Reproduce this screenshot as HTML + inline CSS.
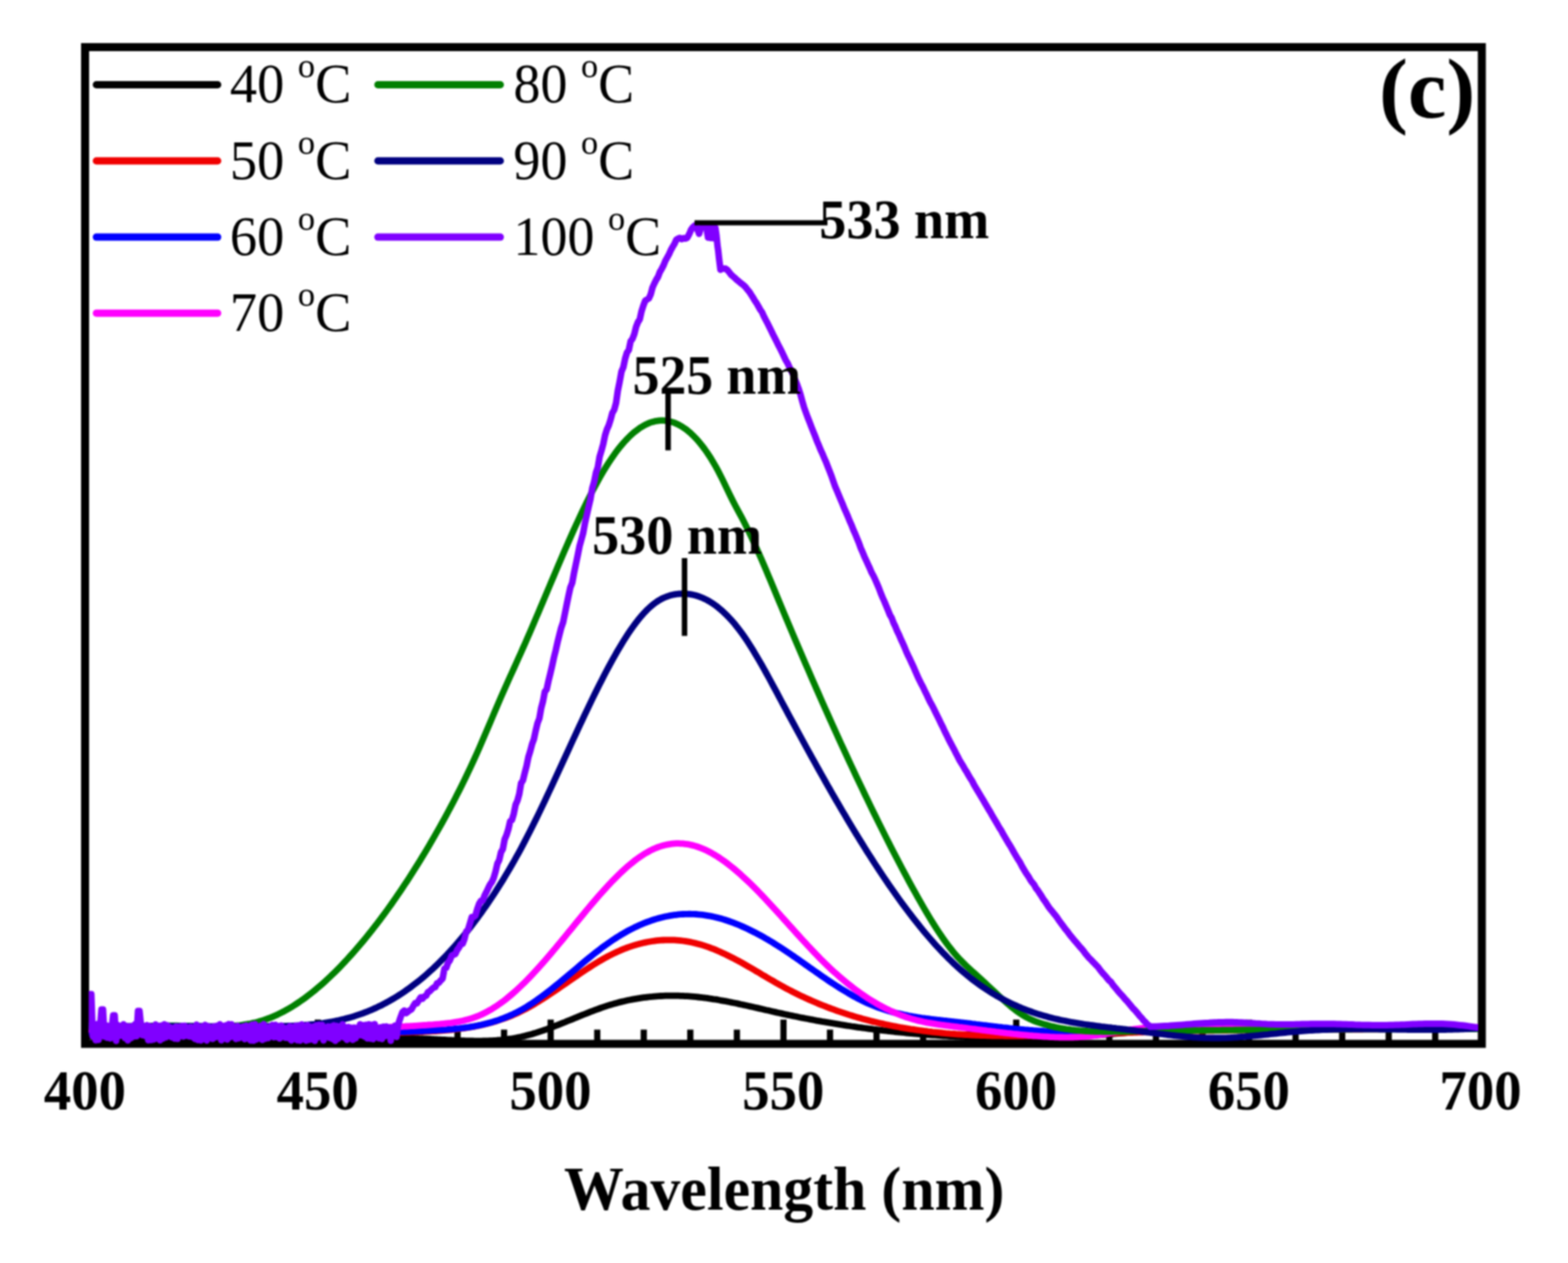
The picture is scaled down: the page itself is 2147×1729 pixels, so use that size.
<!DOCTYPE html>
<html lang="en">
<head>
<meta charset="utf-8">
<title>Emission spectra at different temperatures (c)</title>
<style>
html,body{margin:0;padding:0;background:#fff;}
body{width:2147px;height:1729px;overflow:hidden;font-family:"Liberation Serif","DejaVu Serif",serif;}
svg{display:block;filter:blur(0.8px);}
</style>
</head>
<body>
<svg width="2147" height="1729" viewBox="0 0 2147 1729">
<rect x="0" y="0" width="2147" height="1729" fill="#ffffff"/>
<path d="M180.2 1429.0 V1409.5 M244.0 1429.0 V1409.5 M307.8 1429.0 V1409.5 M371.5 1429.0 V1409.5 M435.2 1429.0 V1395.8 M499.0 1429.0 V1409.5 M562.8 1429.0 V1409.5 M626.5 1429.0 V1409.5 M690.2 1429.0 V1409.5 M754.0 1429.0 V1395.8 M817.8 1429.0 V1409.5 M881.5 1429.0 V1409.5 M945.2 1429.0 V1409.5 M1009.0 1429.0 V1409.5 M1072.8 1429.0 V1395.8 M1136.5 1429.0 V1409.5 M1200.2 1429.0 V1409.5 M1264.0 1429.0 V1409.5 M1327.8 1429.0 V1409.5 M1391.5 1429.0 V1395.8 M1455.2 1429.0 V1409.5 M1519.0 1429.0 V1409.5 M1582.8 1429.0 V1409.5 M1646.5 1429.0 V1409.5 M1710.2 1429.0 V1395.8 M1774.0 1429.0 V1409.5 M1837.8 1429.0 V1409.5 M1901.5 1429.0 V1409.5 M1965.2 1429.0 V1409.5" stroke="#000" stroke-width="8.5" fill="none"/>
<rect x="116.5" y="64.5" width="1912.5" height="1364.5" fill="none" stroke="#000" stroke-width="11"/>
<clipPath id="plot"><rect x="121.5" y="64.5" width="1902.5" height="1365.5"/></clipPath>
<g clip-path="url(#plot)" fill="none" stroke-linejoin="round" stroke-linecap="round">
<path d="M122.0 1419.0 L125.0 1419.1 L128.0 1419.1 L131.0 1419.2 L134.0 1419.3 L137.0 1419.4 L140.0 1419.5 L143.0 1419.6 L146.0 1419.6 L149.0 1419.7 L152.0 1419.8 L155.0 1419.8 L158.0 1419.9 L161.0 1419.9 L164.0 1420.0 L167.0 1420.1 L170.0 1420.1 L173.0 1420.1 L176.0 1420.2 L179.0 1420.2 L182.0 1420.3 L185.0 1420.3 L188.0 1420.3 L191.0 1420.4 L194.0 1420.4 L197.0 1420.4 L200.0 1420.4 L203.0 1420.5 L206.0 1420.5 L209.0 1420.5 L212.0 1420.5 L215.0 1420.5 L218.0 1420.5 L221.0 1420.5 L224.0 1420.6 L227.0 1420.6 L230.0 1420.6 L233.0 1420.6 L236.0 1420.6 L239.0 1420.6 L242.0 1420.6 L245.0 1420.6 L248.0 1420.5 L251.0 1420.5 L254.0 1420.5 L257.0 1420.5 L260.0 1420.5 L263.0 1420.5 L266.0 1420.5 L269.0 1420.5 L272.0 1420.4 L275.0 1420.4 L278.0 1420.4 L281.0 1420.4 L284.0 1420.4 L287.0 1420.3 L290.0 1420.3 L293.0 1420.3 L296.0 1420.3 L299.0 1420.3 L302.0 1420.2 L305.0 1420.2 L308.0 1420.2 L311.0 1420.2 L314.0 1420.1 L317.0 1420.1 L320.0 1420.1 L323.0 1420.0 L326.0 1420.0 L329.0 1420.0 L332.0 1420.0 L335.0 1419.9 L338.0 1419.9 L341.0 1419.9 L344.0 1419.8 L347.0 1419.8 L350.0 1419.8 L353.0 1419.8 L356.0 1419.7 L359.0 1419.7 L362.0 1419.7 L365.0 1419.6 L368.0 1419.6 L371.0 1419.6 L374.0 1419.6 L377.0 1419.5 L380.0 1419.5 L383.0 1419.5 L386.0 1419.5 L389.0 1419.5 L392.0 1419.4 L395.0 1419.4 L398.0 1419.4 L401.0 1419.4 L404.0 1419.4 L407.0 1419.4 L410.0 1419.3 L413.0 1419.3 L416.0 1419.3 L419.0 1419.3 L422.0 1419.3 L425.0 1419.3 L428.0 1419.3 L431.0 1419.3 L434.0 1419.3 L437.0 1419.3 L440.0 1419.3 L443.0 1419.3 L446.0 1419.3 L449.0 1419.3 L452.0 1419.3 L455.0 1419.3 L458.0 1419.3 L461.0 1419.3 L464.0 1419.3 L467.0 1419.4 L470.0 1419.4 L473.0 1419.4 L476.0 1419.4 L479.0 1419.4 L482.0 1419.5 L485.0 1419.5 L488.0 1419.5 L491.0 1419.6 L494.0 1419.6 L497.0 1419.7 L500.0 1419.7 L503.0 1419.7 L506.0 1419.8 L509.0 1419.8 L512.0 1419.9 L515.0 1420.0 L518.0 1420.0 L521.0 1420.1 L524.0 1420.2 L527.0 1420.2 L530.0 1420.3 L533.0 1420.4 L536.0 1420.5 L539.0 1420.5 L542.0 1420.6 L545.0 1420.7 L548.0 1420.8 L551.0 1420.9 L554.0 1421.0 L557.0 1421.1 L560.0 1421.2 L563.0 1421.3 L566.0 1421.4 L569.0 1421.6 L572.0 1421.7 L575.0 1421.8 L578.0 1421.9 L581.0 1422.1 L584.0 1422.2 L587.0 1422.3 L590.0 1422.5 L593.0 1422.6 L596.0 1422.8 L599.0 1423.0 L602.0 1423.1 L605.0 1423.3 L608.0 1423.4 L611.0 1423.6 L614.0 1423.8 L617.0 1423.9 L620.0 1424.1 L623.0 1424.2 L626.0 1424.4 L629.0 1424.5 L632.0 1424.6 L635.0 1424.7 L638.0 1424.8 L641.0 1424.9 L644.0 1425.0 L647.0 1425.0 L650.0 1425.1 L653.0 1425.1 L656.0 1425.1 L659.0 1425.1 L662.0 1425.0 L665.0 1424.9 L668.0 1424.8 L671.0 1424.7 L674.0 1424.6 L677.0 1424.4 L680.0 1424.2 L683.0 1423.9 L686.0 1423.7 L689.0 1423.4 L692.0 1423.0 L695.0 1422.6 L698.0 1422.2 L701.0 1421.8 L704.0 1421.3 L707.0 1420.7 L710.0 1420.1 L713.0 1419.5 L716.0 1418.8 L719.0 1418.1 L722.0 1417.3 L725.0 1416.5 L728.0 1415.7 L731.0 1414.8 L734.0 1413.9 L737.0 1412.9 L740.0 1411.9 L743.0 1410.9 L746.0 1409.8 L749.0 1408.8 L752.0 1407.7 L755.0 1406.5 L758.0 1405.4 L761.0 1404.2 L764.0 1403.1 L767.0 1401.9 L770.0 1400.7 L773.0 1399.5 L776.0 1398.2 L779.0 1397.0 L782.0 1395.8 L785.0 1394.6 L788.0 1393.3 L791.0 1392.1 L794.0 1390.9 L797.0 1389.7 L800.0 1388.5 L803.0 1387.3 L806.0 1386.1 L809.0 1384.9 L812.0 1383.8 L815.0 1382.7 L818.0 1381.6 L821.0 1380.5 L824.0 1379.4 L827.0 1378.4 L830.0 1377.4 L833.0 1376.4 L836.0 1375.5 L839.0 1374.6 L842.0 1373.7 L845.0 1372.9 L848.0 1372.1 L851.0 1371.4 L854.0 1370.7 L857.0 1370.0 L860.0 1369.3 L863.0 1368.7 L866.0 1368.1 L869.0 1367.6 L872.0 1367.1 L875.0 1366.6 L878.0 1366.1 L881.0 1365.7 L884.0 1365.3 L887.0 1365.0 L890.0 1364.6 L893.0 1364.4 L896.0 1364.1 L899.0 1363.9 L902.0 1363.7 L905.0 1363.5 L908.0 1363.4 L911.0 1363.2 L914.0 1363.2 L917.0 1363.1 L920.0 1363.1 L923.0 1363.1 L926.0 1363.1 L929.0 1363.2 L932.0 1363.3 L935.0 1363.4 L938.0 1363.6 L941.0 1363.7 L944.0 1363.9 L947.0 1364.1 L950.0 1364.4 L953.0 1364.7 L956.0 1365.0 L959.0 1365.3 L962.0 1365.7 L965.0 1366.0 L968.0 1366.4 L971.0 1366.9 L974.0 1367.3 L977.0 1367.8 L980.0 1368.2 L983.0 1368.7 L986.0 1369.3 L989.0 1369.8 L992.0 1370.3 L995.0 1370.9 L998.0 1371.5 L1001.0 1372.1 L1004.0 1372.7 L1007.0 1373.3 L1010.0 1373.9 L1013.0 1374.6 L1016.0 1375.2 L1019.0 1375.9 L1022.0 1376.5 L1025.0 1377.2 L1028.0 1377.9 L1031.0 1378.5 L1034.0 1379.2 L1037.0 1379.9 L1040.0 1380.6 L1043.0 1381.3 L1046.0 1382.0 L1049.0 1382.7 L1052.0 1383.3 L1055.0 1384.0 L1058.0 1384.7 L1061.0 1385.4 L1064.0 1386.1 L1067.0 1386.7 L1070.0 1387.4 L1073.0 1388.1 L1076.0 1388.7 L1079.0 1389.4 L1082.0 1390.0 L1085.0 1390.6 L1088.0 1391.2 L1091.0 1391.8 L1094.0 1392.5 L1097.0 1393.1 L1100.0 1393.6 L1103.0 1394.2 L1106.0 1394.8 L1109.0 1395.4 L1112.0 1395.9 L1115.0 1396.5 L1118.0 1397.1 L1121.0 1397.6 L1124.0 1398.1 L1127.0 1398.7 L1130.0 1399.2 L1133.0 1399.7 L1136.0 1400.2 L1139.0 1400.7 L1142.0 1401.2 L1145.0 1401.7 L1148.0 1402.2 L1151.0 1402.7 L1154.0 1403.1 L1157.0 1403.6 L1160.0 1404.1 L1163.0 1404.5 L1166.0 1405.0 L1169.0 1405.4 L1172.0 1405.8 L1175.0 1406.3 L1178.0 1406.7 L1181.0 1407.1 L1184.0 1407.5 L1187.0 1407.9 L1190.0 1408.3 L1193.0 1408.7 L1196.0 1409.1 L1199.0 1409.4 L1202.0 1409.8 L1205.0 1410.2 L1208.0 1410.5 L1211.0 1410.9 L1214.0 1411.2 L1217.0 1411.5 L1220.0 1411.9 L1223.0 1412.2 L1226.0 1412.5 L1229.0 1412.8 L1232.0 1413.1 L1235.0 1413.4 L1238.0 1413.7 L1241.0 1414.0 L1244.0 1414.3 L1247.0 1414.6 L1250.0 1414.8 L1253.0 1415.1 L1256.0 1415.4 L1259.0 1415.6 L1262.0 1415.8 L1265.0 1416.1 L1268.0 1416.3 L1271.0 1416.6 L1274.0 1416.8 L1277.0 1417.0 L1280.0 1417.2 L1283.0 1417.4 L1286.0 1417.6 L1289.0 1417.8 L1292.0 1418.0 L1295.0 1418.2 L1298.0 1418.3 L1301.0 1418.5 L1304.0 1418.7 L1307.0 1418.8 L1310.0 1419.0 L1313.0 1419.1 L1316.0 1419.3 L1319.0 1419.4 L1322.0 1419.6 L1325.0 1419.7 L1328.0 1419.8 L1331.0 1419.9 L1334.0 1420.0 L1337.0 1420.1 L1340.0 1420.2 L1343.0 1420.3 L1346.0 1420.4 L1349.0 1420.5 L1352.0 1420.6 L1355.0 1420.6 L1358.0 1420.7 L1361.0 1420.7 L1364.0 1420.8 L1367.0 1420.8 L1370.0 1420.9 L1373.0 1420.9 L1376.0 1421.0 L1379.0 1421.0 L1382.0 1421.0 L1385.0 1421.0 L1388.0 1421.0 L1391.0 1421.0 L1394.0 1421.0 L1397.0 1421.0 L1400.0 1421.0 L1403.0 1421.0 L1406.0 1420.9 L1409.0 1420.9 L1412.0 1420.9 L1415.0 1420.8 L1418.0 1420.8 L1421.0 1420.7 L1424.0 1420.7 L1427.0 1420.6 L1430.0 1420.5 L1433.0 1420.5 L1436.0 1420.4 L1439.0 1420.3 L1442.0 1420.2 L1445.0 1420.1 L1448.0 1420.0 L1451.0 1419.9 L1454.0 1419.8 L1457.0 1419.6 L1460.0 1419.5 L1463.0 1419.4 L1466.0 1419.2 L1469.0 1419.1 L1472.0 1418.9 L1475.0 1418.8 L1478.0 1418.6 L1481.0 1418.4 L1484.0 1418.3 L1487.0 1418.1 L1490.0 1417.9 L1493.0 1417.7 L1496.0 1417.5 L1499.0 1417.3 L1502.0 1417.1 L1505.0 1416.9 L1508.0 1416.6 L1511.0 1416.4 L1514.0 1416.2 L1517.0 1415.9 L1520.0 1415.7 L1523.0 1415.5 L1526.0 1415.2 L1529.0 1414.9 L1532.0 1414.7 L1535.0 1414.4 L1538.0 1414.1 L1541.0 1413.8 L1544.0 1413.5 L1547.0 1413.2 L1550.0 1412.9 L1553.0 1412.6 L1556.0 1412.3 L1559.0 1412.0 L1562.0 1411.7 L1565.0 1411.4 L1568.0 1411.1 L1571.0 1410.8 L1574.0 1410.5 L1577.0 1410.2 L1580.0 1409.9 L1583.0 1409.6 L1586.0 1409.4 L1589.0 1409.1 L1592.0 1408.9 L1595.0 1408.6 L1598.0 1408.4 L1601.0 1408.2 L1604.0 1408.0 L1607.0 1407.9 L1610.0 1407.7 L1613.0 1407.6 L1616.0 1407.5 L1619.0 1407.4 L1622.0 1407.3 L1625.0 1407.2 L1628.0 1407.1 L1631.0 1407.1 L1634.0 1407.0 L1637.0 1407.0 L1640.0 1407.0 L1643.0 1406.9 L1646.0 1406.9 L1649.0 1406.9 L1652.0 1406.9 L1655.0 1406.9 L1658.0 1406.9 L1661.0 1406.9 L1664.0 1406.9 L1667.0 1406.9 L1670.0 1407.0 L1673.0 1407.0 L1676.0 1407.0 L1679.0 1407.0 L1682.0 1407.0 L1685.0 1407.0 L1688.0 1407.0 L1691.0 1407.1 L1694.0 1407.1 L1697.0 1407.1 L1700.0 1407.1 L1703.0 1407.1 L1706.0 1407.1 L1709.0 1407.2 L1712.0 1407.2 L1715.0 1407.2 L1718.0 1407.2 L1721.0 1407.2 L1724.0 1407.2 L1727.0 1407.3 L1730.0 1407.3 L1733.0 1407.3 L1736.0 1407.3 L1739.0 1407.3 L1742.0 1407.3 L1745.0 1407.4 L1748.0 1407.4 L1751.0 1407.4 L1754.0 1407.4 L1757.0 1407.4 L1760.0 1407.4 L1763.0 1407.4 L1766.0 1407.4 L1769.0 1407.5 L1772.0 1407.5 L1775.0 1407.5 L1778.0 1407.5 L1781.0 1407.5 L1784.0 1407.5 L1787.0 1407.5 L1790.0 1407.5 L1793.0 1407.5 L1796.0 1407.5 L1799.0 1407.5 L1802.0 1407.5 L1805.0 1407.5 L1808.0 1407.5 L1811.0 1407.5 L1814.0 1407.4 L1817.0 1407.4 L1820.0 1407.4 L1823.0 1407.4 L1826.0 1407.4 L1829.0 1407.4 L1832.0 1407.4 L1835.0 1407.4 L1838.0 1407.3 L1841.0 1407.3 L1844.0 1407.3 L1847.0 1407.3 L1850.0 1407.3 L1853.0 1407.3 L1856.0 1407.3 L1859.0 1407.2 L1862.0 1407.2 L1865.0 1407.2 L1868.0 1407.2 L1871.0 1407.2 L1874.0 1407.2 L1877.0 1407.1 L1880.0 1407.1 L1883.0 1407.1 L1886.0 1407.1 L1889.0 1407.1 L1892.0 1407.1 L1895.0 1407.0 L1898.0 1407.0 L1901.0 1407.0 L1904.0 1407.0 L1907.0 1407.0 L1910.0 1407.0 L1913.0 1407.0 L1916.0 1406.9 L1919.0 1406.9 L1922.0 1406.9 L1925.0 1406.9 L1928.0 1406.9 L1931.0 1406.9 L1934.0 1406.9 L1937.0 1406.9 L1940.0 1406.9 L1943.0 1406.9 L1946.0 1406.9 L1949.0 1406.9 L1952.0 1406.9 L1955.0 1406.9 L1958.0 1406.9 L1961.0 1406.9 L1964.0 1406.9 L1967.0 1406.9 L1970.0 1406.9 L1973.0 1406.9 L1976.0 1406.9 L1979.0 1406.9 L1982.0 1406.9 L1985.0 1407.0 L1988.0 1407.0 L1991.0 1407.0 L1994.0 1407.0 L1997.0 1407.0 L2000.0 1407.1 L2003.0 1407.1 L2006.0 1407.1 L2009.0 1407.1 L2012.0 1407.2 L2015.0 1407.2 L2018.0 1407.3 L2021.0 1407.3 L2023.0 1407.3" stroke="#000000" stroke-width="8.8"/>
<path d="M122.0 1410.2 L125.0 1410.3 L128.0 1410.4 L131.0 1410.5 L134.0 1410.6 L137.0 1410.7 L140.0 1410.8 L143.0 1410.9 L146.0 1410.9 L149.0 1411.0 L152.0 1411.1 L155.0 1411.2 L158.0 1411.2 L161.0 1411.3 L164.0 1411.3 L167.0 1411.4 L170.0 1411.4 L173.0 1411.4 L176.0 1411.5 L179.0 1411.5 L182.0 1411.5 L185.0 1411.5 L188.0 1411.6 L191.0 1411.6 L194.0 1411.6 L197.0 1411.6 L200.0 1411.6 L203.0 1411.6 L206.0 1411.6 L209.0 1411.6 L212.0 1411.6 L215.0 1411.6 L218.0 1411.6 L221.0 1411.6 L224.0 1411.6 L227.0 1411.5 L230.0 1411.5 L233.0 1411.5 L236.0 1411.5 L239.0 1411.5 L242.0 1411.4 L245.0 1411.4 L248.0 1411.4 L251.0 1411.4 L254.0 1411.3 L257.0 1411.3 L260.0 1411.3 L263.0 1411.3 L266.0 1411.2 L269.0 1411.2 L272.0 1411.2 L275.0 1411.1 L278.0 1411.1 L281.0 1411.1 L284.0 1411.1 L287.0 1411.0 L290.0 1411.0 L293.0 1411.0 L296.0 1411.0 L299.0 1410.9 L302.0 1410.9 L305.0 1410.9 L308.0 1410.9 L311.0 1410.9 L314.0 1410.8 L317.0 1410.8 L320.0 1410.8 L323.0 1410.8 L326.0 1410.8 L329.0 1410.8 L332.0 1410.8 L335.0 1410.8 L338.0 1410.8 L341.0 1410.8 L344.0 1410.8 L347.0 1410.8 L350.0 1410.9 L353.0 1410.9 L356.0 1410.9 L359.0 1410.9 L362.0 1411.0 L365.0 1411.0 L368.0 1411.0 L371.0 1411.1 L374.0 1411.1 L377.0 1411.2 L380.0 1411.2 L383.0 1411.3 L386.0 1411.3 L389.0 1411.4 L392.0 1411.5 L395.0 1411.5 L398.0 1411.6 L401.0 1411.7 L404.0 1411.8 L407.0 1411.8 L410.0 1411.9 L413.0 1412.0 L416.0 1412.0 L419.0 1412.1 L422.0 1412.2 L425.0 1412.3 L428.0 1412.4 L431.0 1412.4 L434.0 1412.5 L437.0 1412.6 L440.0 1412.7 L443.0 1412.7 L446.0 1412.8 L449.0 1412.9 L452.0 1413.0 L455.0 1413.0 L458.0 1413.1 L461.0 1413.2 L464.0 1413.2 L467.0 1413.3 L470.0 1413.4 L473.0 1413.4 L476.0 1413.5 L479.0 1413.5 L482.0 1413.6 L485.0 1413.6 L488.0 1413.7 L491.0 1413.7 L494.0 1413.8 L497.0 1413.8 L500.0 1413.8 L503.0 1413.9 L506.0 1413.9 L509.0 1413.9 L512.0 1413.9 L515.0 1413.9 L518.0 1413.9 L521.0 1413.9 L524.0 1413.9 L527.0 1413.9 L530.0 1413.9 L533.0 1413.8 L536.0 1413.8 L539.0 1413.7 L542.0 1413.7 L545.0 1413.6 L548.0 1413.6 L551.0 1413.5 L554.0 1413.4 L557.0 1413.4 L560.0 1413.3 L563.0 1413.2 L566.0 1413.1 L569.0 1412.9 L572.0 1412.8 L575.0 1412.7 L578.0 1412.5 L581.0 1412.4 L584.0 1412.2 L587.0 1412.1 L590.0 1411.9 L593.0 1411.7 L596.0 1411.5 L599.0 1411.3 L602.0 1411.1 L605.0 1410.8 L608.0 1410.6 L611.0 1410.3 L614.0 1410.1 L617.0 1409.8 L620.0 1409.5 L623.0 1409.1 L626.0 1408.8 L629.0 1408.4 L632.0 1408.0 L635.0 1407.6 L638.0 1407.1 L641.0 1406.7 L644.0 1406.2 L647.0 1405.7 L650.0 1405.1 L653.0 1404.5 L656.0 1403.9 L659.0 1403.2 L662.0 1402.6 L665.0 1401.8 L668.0 1401.1 L671.0 1400.3 L674.0 1399.5 L677.0 1398.6 L680.0 1397.7 L683.0 1396.7 L686.0 1395.7 L689.0 1394.7 L692.0 1393.6 L695.0 1392.5 L698.0 1391.3 L701.0 1390.1 L704.0 1388.8 L707.0 1387.4 L710.0 1386.1 L713.0 1384.6 L716.0 1383.1 L719.0 1381.6 L722.0 1380.0 L725.0 1378.3 L728.0 1376.6 L731.0 1374.9 L734.0 1373.1 L737.0 1371.3 L740.0 1369.4 L743.0 1367.5 L746.0 1365.6 L749.0 1363.7 L752.0 1361.7 L755.0 1359.7 L758.0 1357.7 L761.0 1355.6 L764.0 1353.6 L767.0 1351.5 L770.0 1349.4 L773.0 1347.4 L776.0 1345.3 L779.0 1343.2 L782.0 1341.1 L785.0 1339.1 L788.0 1337.0 L791.0 1335.0 L794.0 1332.9 L797.0 1330.9 L800.0 1328.9 L803.0 1326.9 L806.0 1325.0 L809.0 1323.0 L812.0 1321.1 L815.0 1319.3 L818.0 1317.4 L821.0 1315.6 L824.0 1313.9 L827.0 1312.2 L830.0 1310.5 L833.0 1308.9 L836.0 1307.4 L839.0 1305.9 L842.0 1304.4 L845.0 1303.0 L848.0 1301.7 L851.0 1300.4 L854.0 1299.2 L857.0 1298.0 L860.0 1296.9 L863.0 1295.9 L866.0 1294.9 L869.0 1293.9 L872.0 1293.1 L875.0 1292.2 L878.0 1291.5 L881.0 1290.8 L884.0 1290.1 L887.0 1289.5 L890.0 1289.0 L893.0 1288.5 L896.0 1288.1 L899.0 1287.7 L902.0 1287.4 L905.0 1287.2 L908.0 1287.0 L911.0 1286.9 L914.0 1286.8 L917.0 1286.8 L920.0 1286.8 L923.0 1286.9 L926.0 1287.1 L929.0 1287.3 L932.0 1287.6 L935.0 1288.0 L938.0 1288.4 L941.0 1288.9 L944.0 1289.4 L947.0 1290.0 L950.0 1290.7 L953.0 1291.4 L956.0 1292.2 L959.0 1293.0 L962.0 1293.9 L965.0 1294.9 L968.0 1295.9 L971.0 1296.9 L974.0 1298.1 L977.0 1299.2 L980.0 1300.4 L983.0 1301.7 L986.0 1303.0 L989.0 1304.4 L992.0 1305.8 L995.0 1307.2 L998.0 1308.7 L1001.0 1310.2 L1004.0 1311.7 L1007.0 1313.3 L1010.0 1314.9 L1013.0 1316.5 L1016.0 1318.2 L1019.0 1319.9 L1022.0 1321.6 L1025.0 1323.3 L1028.0 1325.0 L1031.0 1326.8 L1034.0 1328.6 L1037.0 1330.3 L1040.0 1332.1 L1043.0 1333.9 L1046.0 1335.7 L1049.0 1337.4 L1052.0 1339.2 L1055.0 1341.0 L1058.0 1342.7 L1061.0 1344.4 L1064.0 1346.2 L1067.0 1347.8 L1070.0 1349.5 L1073.0 1351.2 L1076.0 1352.8 L1079.0 1354.4 L1082.0 1355.9 L1085.0 1357.5 L1088.0 1359.0 L1091.0 1360.5 L1094.0 1362.0 L1097.0 1363.4 L1100.0 1364.8 L1103.0 1366.2 L1106.0 1367.6 L1109.0 1368.9 L1112.0 1370.2 L1115.0 1371.5 L1118.0 1372.8 L1121.0 1374.1 L1124.0 1375.3 L1127.0 1376.5 L1130.0 1377.7 L1133.0 1378.9 L1136.0 1380.0 L1139.0 1381.1 L1142.0 1382.2 L1145.0 1383.3 L1148.0 1384.4 L1151.0 1385.4 L1154.0 1386.4 L1157.0 1387.4 L1160.0 1388.4 L1163.0 1389.4 L1166.0 1390.3 L1169.0 1391.2 L1172.0 1392.1 L1175.0 1393.0 L1178.0 1393.8 L1181.0 1394.7 L1184.0 1395.5 L1187.0 1396.3 L1190.0 1397.1 L1193.0 1397.9 L1196.0 1398.6 L1199.0 1399.3 L1202.0 1400.0 L1205.0 1400.7 L1208.0 1401.4 L1211.0 1402.1 L1214.0 1402.7 L1217.0 1403.4 L1220.0 1404.0 L1223.0 1404.6 L1226.0 1405.1 L1229.0 1405.7 L1232.0 1406.3 L1235.0 1406.8 L1238.0 1407.3 L1241.0 1407.8 L1244.0 1408.3 L1247.0 1408.8 L1250.0 1409.2 L1253.0 1409.7 L1256.0 1410.1 L1259.0 1410.5 L1262.0 1410.9 L1265.0 1411.3 L1268.0 1411.7 L1271.0 1412.1 L1274.0 1412.4 L1277.0 1412.8 L1280.0 1413.1 L1283.0 1413.4 L1286.0 1413.7 L1289.0 1414.0 L1292.0 1414.3 L1295.0 1414.6 L1298.0 1414.8 L1301.0 1415.1 L1304.0 1415.3 L1307.0 1415.5 L1310.0 1415.8 L1313.0 1416.0 L1316.0 1416.2 L1319.0 1416.4 L1322.0 1416.5 L1325.0 1416.7 L1328.0 1416.9 L1331.0 1417.0 L1334.0 1417.1 L1337.0 1417.3 L1340.0 1417.4 L1343.0 1417.5 L1346.0 1417.6 L1349.0 1417.7 L1352.0 1417.8 L1355.0 1417.9 L1358.0 1418.0 L1361.0 1418.0 L1364.0 1418.1 L1367.0 1418.1 L1370.0 1418.2 L1373.0 1418.2 L1376.0 1418.3 L1379.0 1418.3 L1382.0 1418.3 L1385.0 1418.3 L1388.0 1418.3 L1391.0 1418.3 L1394.0 1418.3 L1397.0 1418.3 L1400.0 1418.3 L1403.0 1418.2 L1406.0 1418.2 L1409.0 1418.2 L1412.0 1418.1 L1415.0 1418.1 L1418.0 1418.1 L1421.0 1418.0 L1424.0 1417.9 L1427.0 1417.9 L1430.0 1417.8 L1433.0 1417.7 L1436.0 1417.7 L1439.0 1417.6 L1442.0 1417.5 L1445.0 1417.4 L1448.0 1417.3 L1451.0 1417.2 L1454.0 1417.1 L1457.0 1417.0 L1460.0 1417.0 L1463.0 1416.8 L1466.0 1416.7 L1469.0 1416.6 L1472.0 1416.5 L1475.0 1416.4 L1478.0 1416.3 L1481.0 1416.2 L1484.0 1416.1 L1487.0 1416.0 L1490.0 1415.8 L1493.0 1415.7 L1496.0 1415.6 L1499.0 1415.5 L1502.0 1415.4 L1505.0 1415.3 L1508.0 1415.1 L1511.0 1415.0 L1514.0 1414.9 L1517.0 1414.8 L1520.0 1414.7 L1523.0 1414.5 L1526.0 1414.4 L1529.0 1414.3 L1532.0 1414.2 L1535.0 1414.1 L1538.0 1414.0 L1541.0 1413.9 L1544.0 1413.7 L1547.0 1413.6 L1550.0 1413.5 L1553.0 1413.4 L1556.0 1413.3 L1559.0 1413.2 L1562.0 1413.1 L1565.0 1413.0 L1568.0 1412.9 L1571.0 1412.8 L1574.0 1412.8 L1577.0 1412.7 L1580.0 1412.6 L1583.0 1412.5 L1586.0 1412.4 L1589.0 1412.3 L1592.0 1412.2 L1595.0 1412.2 L1598.0 1412.1 L1601.0 1412.0 L1604.0 1411.9 L1607.0 1411.9 L1610.0 1411.8 L1613.0 1411.7 L1616.0 1411.6 L1619.0 1411.6 L1622.0 1411.5 L1625.0 1411.4 L1628.0 1411.4 L1631.0 1411.3 L1634.0 1411.2 L1637.0 1411.2 L1640.0 1411.1 L1643.0 1411.1 L1646.0 1411.0 L1649.0 1411.0 L1652.0 1410.9 L1655.0 1410.9 L1658.0 1410.8 L1661.0 1410.8 L1664.0 1410.7 L1667.0 1410.7 L1670.0 1410.6 L1673.0 1410.6 L1676.0 1410.5 L1679.0 1410.5 L1682.0 1410.4 L1685.0 1410.4 L1688.0 1410.3 L1691.0 1410.3 L1694.0 1410.3 L1697.0 1410.2 L1700.0 1410.2 L1703.0 1410.2 L1706.0 1410.1 L1709.0 1410.1 L1712.0 1410.0 L1715.0 1410.0 L1718.0 1410.0 L1721.0 1410.0 L1724.0 1409.9 L1727.0 1409.9 L1730.0 1409.9 L1733.0 1409.8 L1736.0 1409.8 L1739.0 1409.8 L1742.0 1409.7 L1745.0 1409.7 L1748.0 1409.7 L1751.0 1409.7 L1754.0 1409.6 L1757.0 1409.6 L1760.0 1409.6 L1763.0 1409.6 L1766.0 1409.6 L1769.0 1409.5 L1772.0 1409.5 L1775.0 1409.5 L1778.0 1409.5 L1781.0 1409.4 L1784.0 1409.4 L1787.0 1409.4 L1790.0 1409.4 L1793.0 1409.4 L1796.0 1409.4 L1799.0 1409.3 L1802.0 1409.3 L1805.0 1409.3 L1808.0 1409.3 L1811.0 1409.3 L1814.0 1409.2 L1817.0 1409.2 L1820.0 1409.2 L1823.0 1409.2 L1826.0 1409.2 L1829.0 1409.2 L1832.0 1409.1 L1835.0 1409.1 L1838.0 1409.1 L1841.0 1409.1 L1844.0 1409.1 L1847.0 1409.1 L1850.0 1409.0 L1853.0 1409.0 L1856.0 1409.0 L1859.0 1409.0 L1862.0 1409.0 L1865.0 1409.0 L1868.0 1408.9 L1871.0 1408.9 L1874.0 1408.9 L1877.0 1408.9 L1880.0 1408.9 L1883.0 1408.8 L1886.0 1408.8 L1889.0 1408.8 L1892.0 1408.8 L1895.0 1408.8 L1898.0 1408.7 L1901.0 1408.7 L1904.0 1408.7 L1907.0 1408.7 L1910.0 1408.7 L1913.0 1408.6 L1916.0 1408.6 L1919.0 1408.6 L1922.0 1408.6 L1925.0 1408.5 L1928.0 1408.5 L1931.0 1408.5 L1934.0 1408.5 L1937.0 1408.4 L1940.0 1408.4 L1943.0 1408.4 L1946.0 1408.4 L1949.0 1408.3 L1952.0 1408.3 L1955.0 1408.3 L1958.0 1408.2 L1961.0 1408.2 L1964.0 1408.2 L1967.0 1408.1 L1970.0 1408.1 L1973.0 1408.1 L1976.0 1408.0 L1979.0 1408.0 L1982.0 1408.0 L1985.0 1407.9 L1988.0 1407.9 L1991.0 1407.8 L1994.0 1407.8 L1997.0 1407.8 L2000.0 1407.7 L2003.0 1407.7 L2006.0 1407.6 L2009.0 1407.6 L2012.0 1407.5 L2015.0 1407.5 L2018.0 1407.4 L2021.0 1407.4 L2023.0 1407.3" stroke="#f00000" stroke-width="8.8"/>
<path d="M122.0 1412.8 L125.0 1412.6 L128.0 1412.5 L131.0 1412.3 L134.0 1412.2 L137.0 1412.0 L140.0 1411.9 L143.0 1411.8 L146.0 1411.7 L149.0 1411.6 L152.0 1411.5 L155.0 1411.4 L158.0 1411.3 L161.0 1411.2 L164.0 1411.1 L167.0 1411.0 L170.0 1410.9 L173.0 1410.8 L176.0 1410.8 L179.0 1410.7 L182.0 1410.7 L185.0 1410.6 L188.0 1410.5 L191.0 1410.5 L194.0 1410.5 L197.0 1410.4 L200.0 1410.4 L203.0 1410.3 L206.0 1410.3 L209.0 1410.3 L212.0 1410.3 L215.0 1410.2 L218.0 1410.2 L221.0 1410.2 L224.0 1410.2 L227.0 1410.2 L230.0 1410.2 L233.0 1410.2 L236.0 1410.2 L239.0 1410.2 L242.0 1410.2 L245.0 1410.2 L248.0 1410.3 L251.0 1410.3 L254.0 1410.3 L257.0 1410.3 L260.0 1410.3 L263.0 1410.4 L266.0 1410.4 L269.0 1410.4 L272.0 1410.5 L275.0 1410.5 L278.0 1410.5 L281.0 1410.6 L284.0 1410.6 L287.0 1410.7 L290.0 1410.7 L293.0 1410.8 L296.0 1410.8 L299.0 1410.9 L302.0 1410.9 L305.0 1411.0 L308.0 1411.0 L311.0 1411.1 L314.0 1411.1 L317.0 1411.2 L320.0 1411.2 L323.0 1411.3 L326.0 1411.4 L329.0 1411.4 L332.0 1411.5 L335.0 1411.5 L338.0 1411.6 L341.0 1411.7 L344.0 1411.7 L347.0 1411.8 L350.0 1411.8 L353.0 1411.9 L356.0 1412.0 L359.0 1412.0 L362.0 1412.1 L365.0 1412.2 L368.0 1412.2 L371.0 1412.3 L374.0 1412.3 L377.0 1412.4 L380.0 1412.5 L383.0 1412.5 L386.0 1412.6 L389.0 1412.6 L392.0 1412.7 L395.0 1412.8 L398.0 1412.8 L401.0 1412.9 L404.0 1412.9 L407.0 1413.0 L410.0 1413.0 L413.0 1413.1 L416.0 1413.1 L419.0 1413.2 L422.0 1413.2 L425.0 1413.3 L428.0 1413.3 L431.0 1413.3 L434.0 1413.4 L437.0 1413.4 L440.0 1413.4 L443.0 1413.5 L446.0 1413.5 L449.0 1413.5 L452.0 1413.6 L455.0 1413.6 L458.0 1413.6 L461.0 1413.6 L464.0 1413.6 L467.0 1413.6 L470.0 1413.6 L473.0 1413.7 L476.0 1413.7 L479.0 1413.7 L482.0 1413.7 L485.0 1413.6 L488.0 1413.6 L491.0 1413.6 L494.0 1413.6 L497.0 1413.6 L500.0 1413.6 L503.0 1413.5 L506.0 1413.5 L509.0 1413.5 L512.0 1413.4 L515.0 1413.4 L518.0 1413.4 L521.0 1413.3 L524.0 1413.3 L527.0 1413.2 L530.0 1413.1 L533.0 1413.1 L536.0 1413.0 L539.0 1412.9 L542.0 1412.8 L545.0 1412.8 L548.0 1412.7 L551.0 1412.6 L554.0 1412.5 L557.0 1412.4 L560.0 1412.3 L563.0 1412.1 L566.0 1412.0 L569.0 1411.9 L572.0 1411.8 L575.0 1411.6 L578.0 1411.5 L581.0 1411.4 L584.0 1411.2 L587.0 1411.1 L590.0 1410.9 L593.0 1410.7 L596.0 1410.5 L599.0 1410.4 L602.0 1410.2 L605.0 1410.0 L608.0 1409.8 L611.0 1409.6 L614.0 1409.3 L617.0 1409.1 L620.0 1408.8 L623.0 1408.5 L626.0 1408.2 L629.0 1407.9 L632.0 1407.5 L635.0 1407.1 L638.0 1406.7 L641.0 1406.3 L644.0 1405.8 L647.0 1405.3 L650.0 1404.8 L653.0 1404.2 L656.0 1403.6 L659.0 1403.0 L662.0 1402.3 L665.0 1401.6 L668.0 1400.8 L671.0 1400.0 L674.0 1399.2 L677.0 1398.2 L680.0 1397.3 L683.0 1396.3 L686.0 1395.2 L689.0 1394.1 L692.0 1392.9 L695.0 1391.7 L698.0 1390.4 L701.0 1389.1 L704.0 1387.6 L707.0 1386.2 L710.0 1384.6 L713.0 1383.0 L716.0 1381.3 L719.0 1379.6 L722.0 1377.7 L725.0 1375.8 L728.0 1373.9 L731.0 1371.9 L734.0 1369.8 L737.0 1367.7 L740.0 1365.5 L743.0 1363.3 L746.0 1361.1 L749.0 1358.8 L752.0 1356.5 L755.0 1354.1 L758.0 1351.7 L761.0 1349.3 L764.0 1346.8 L767.0 1344.4 L770.0 1341.9 L773.0 1339.4 L776.0 1336.9 L779.0 1334.3 L782.0 1331.8 L785.0 1329.3 L788.0 1326.8 L791.0 1324.2 L794.0 1321.7 L797.0 1319.2 L800.0 1316.7 L803.0 1314.2 L806.0 1311.8 L809.0 1309.3 L812.0 1306.9 L815.0 1304.6 L818.0 1302.2 L821.0 1299.9 L824.0 1297.6 L827.0 1295.4 L830.0 1293.2 L833.0 1291.1 L836.0 1289.0 L839.0 1286.9 L842.0 1285.0 L845.0 1283.0 L848.0 1281.2 L851.0 1279.3 L854.0 1277.6 L857.0 1275.9 L860.0 1274.2 L863.0 1272.6 L866.0 1271.1 L869.0 1269.6 L872.0 1268.2 L875.0 1266.8 L878.0 1265.5 L881.0 1264.2 L884.0 1263.0 L887.0 1261.9 L890.0 1260.8 L893.0 1259.7 L896.0 1258.8 L899.0 1257.9 L902.0 1257.0 L905.0 1256.2 L908.0 1255.5 L911.0 1254.8 L914.0 1254.2 L917.0 1253.6 L920.0 1253.1 L923.0 1252.7 L926.0 1252.3 L929.0 1251.9 L932.0 1251.7 L935.0 1251.5 L938.0 1251.3 L941.0 1251.3 L944.0 1251.2 L947.0 1251.3 L950.0 1251.4 L953.0 1251.5 L956.0 1251.8 L959.0 1252.1 L962.0 1252.4 L965.0 1252.8 L968.0 1253.3 L971.0 1253.8 L974.0 1254.4 L977.0 1255.0 L980.0 1255.7 L983.0 1256.5 L986.0 1257.3 L989.0 1258.1 L992.0 1259.0 L995.0 1260.0 L998.0 1261.0 L1001.0 1262.1 L1004.0 1263.2 L1007.0 1264.3 L1010.0 1265.5 L1013.0 1266.8 L1016.0 1268.1 L1019.0 1269.4 L1022.0 1270.8 L1025.0 1272.2 L1028.0 1273.7 L1031.0 1275.2 L1034.0 1276.7 L1037.0 1278.3 L1040.0 1279.9 L1043.0 1281.5 L1046.0 1283.2 L1049.0 1285.0 L1052.0 1286.7 L1055.0 1288.5 L1058.0 1290.3 L1061.0 1292.2 L1064.0 1294.1 L1067.0 1296.0 L1070.0 1297.9 L1073.0 1299.9 L1076.0 1301.9 L1079.0 1303.9 L1082.0 1305.9 L1085.0 1308.0 L1088.0 1310.0 L1091.0 1312.1 L1094.0 1314.2 L1097.0 1316.3 L1100.0 1318.4 L1103.0 1320.6 L1106.0 1322.7 L1109.0 1324.8 L1112.0 1326.9 L1115.0 1329.0 L1118.0 1331.1 L1121.0 1333.2 L1124.0 1335.3 L1127.0 1337.4 L1130.0 1339.4 L1133.0 1341.5 L1136.0 1343.5 L1139.0 1345.5 L1142.0 1347.4 L1145.0 1349.4 L1148.0 1351.3 L1151.0 1353.2 L1154.0 1355.0 L1157.0 1356.8 L1160.0 1358.6 L1163.0 1360.4 L1166.0 1362.1 L1169.0 1363.8 L1172.0 1365.4 L1175.0 1367.0 L1178.0 1368.5 L1181.0 1370.0 L1184.0 1371.5 L1187.0 1372.9 L1190.0 1374.2 L1193.0 1375.5 L1196.0 1376.7 L1199.0 1377.9 L1202.0 1379.0 L1205.0 1380.1 L1208.0 1381.1 L1211.0 1382.1 L1214.0 1383.1 L1217.0 1384.0 L1220.0 1384.9 L1223.0 1385.7 L1226.0 1386.5 L1229.0 1387.2 L1232.0 1387.9 L1235.0 1388.6 L1238.0 1389.3 L1241.0 1389.9 L1244.0 1390.5 L1247.0 1391.0 L1250.0 1391.6 L1253.0 1392.1 L1256.0 1392.6 L1259.0 1393.0 L1262.0 1393.5 L1265.0 1393.9 L1268.0 1394.3 L1271.0 1394.7 L1274.0 1395.1 L1277.0 1395.5 L1280.0 1395.8 L1283.0 1396.2 L1286.0 1396.5 L1289.0 1396.8 L1292.0 1397.2 L1295.0 1397.5 L1298.0 1397.8 L1301.0 1398.1 L1304.0 1398.5 L1307.0 1398.8 L1310.0 1399.1 L1313.0 1399.5 L1316.0 1399.8 L1319.0 1400.1 L1322.0 1400.5 L1325.0 1400.8 L1328.0 1401.2 L1331.0 1401.6 L1334.0 1401.9 L1337.0 1402.3 L1340.0 1402.6 L1343.0 1403.0 L1346.0 1403.4 L1349.0 1403.7 L1352.0 1404.1 L1355.0 1404.5 L1358.0 1404.8 L1361.0 1405.2 L1364.0 1405.5 L1367.0 1405.9 L1370.0 1406.2 L1373.0 1406.6 L1376.0 1406.9 L1379.0 1407.2 L1382.0 1407.6 L1385.0 1407.9 L1388.0 1408.2 L1391.0 1408.5 L1394.0 1408.8 L1397.0 1409.1 L1400.0 1409.4 L1403.0 1409.7 L1406.0 1409.9 L1409.0 1410.2 L1412.0 1410.4 L1415.0 1410.7 L1418.0 1410.9 L1421.0 1411.1 L1424.0 1411.3 L1427.0 1411.5 L1430.0 1411.7 L1433.0 1411.8 L1436.0 1412.0 L1439.0 1412.1 L1442.0 1412.2 L1445.0 1412.3 L1448.0 1412.4 L1451.0 1412.5 L1454.0 1412.6 L1457.0 1412.7 L1460.0 1412.7 L1463.0 1412.8 L1466.0 1412.8 L1469.0 1412.8 L1472.0 1412.8 L1475.0 1412.8 L1478.0 1412.8 L1481.0 1412.8 L1484.0 1412.8 L1487.0 1412.8 L1490.0 1412.8 L1493.0 1412.7 L1496.0 1412.7 L1499.0 1412.7 L1502.0 1412.6 L1505.0 1412.6 L1508.0 1412.5 L1511.0 1412.4 L1514.0 1412.4 L1517.0 1412.3 L1520.0 1412.2 L1523.0 1412.2 L1526.0 1412.1 L1529.0 1412.0 L1532.0 1411.9 L1535.0 1411.9 L1538.0 1411.8 L1541.0 1411.7 L1544.0 1411.6 L1547.0 1411.6 L1550.0 1411.5 L1553.0 1411.4 L1556.0 1411.4 L1559.0 1411.3 L1562.0 1411.2 L1565.0 1411.2 L1568.0 1411.1 L1571.0 1411.0 L1574.0 1411.0 L1577.0 1410.9 L1580.0 1410.8 L1583.0 1410.8 L1586.0 1410.7 L1589.0 1410.7 L1592.0 1410.6 L1595.0 1410.5 L1598.0 1410.5 L1601.0 1410.4 L1604.0 1410.4 L1607.0 1410.3 L1610.0 1410.3 L1613.0 1410.2 L1616.0 1410.2 L1619.0 1410.1 L1622.0 1410.1 L1625.0 1410.0 L1628.0 1410.0 L1631.0 1409.9 L1634.0 1409.9 L1637.0 1409.9 L1640.0 1409.8 L1643.0 1409.8 L1646.0 1409.7 L1649.0 1409.7 L1652.0 1409.6 L1655.0 1409.6 L1658.0 1409.6 L1661.0 1409.5 L1664.0 1409.5 L1667.0 1409.5 L1670.0 1409.4 L1673.0 1409.4 L1676.0 1409.4 L1679.0 1409.3 L1682.0 1409.3 L1685.0 1409.3 L1688.0 1409.2 L1691.0 1409.2 L1694.0 1409.2 L1697.0 1409.1 L1700.0 1409.1 L1703.0 1409.1 L1706.0 1409.0 L1709.0 1409.0 L1712.0 1409.0 L1715.0 1409.0 L1718.0 1408.9 L1721.0 1408.9 L1724.0 1408.9 L1727.0 1408.9 L1730.0 1408.9 L1733.0 1408.8 L1736.0 1408.8 L1739.0 1408.8 L1742.0 1408.8 L1745.0 1408.7 L1748.0 1408.7 L1751.0 1408.7 L1754.0 1408.7 L1757.0 1408.7 L1760.0 1408.7 L1763.0 1408.6 L1766.0 1408.6 L1769.0 1408.6 L1772.0 1408.6 L1775.0 1408.6 L1778.0 1408.6 L1781.0 1408.5 L1784.0 1408.5 L1787.0 1408.5 L1790.0 1408.5 L1793.0 1408.5 L1796.0 1408.5 L1799.0 1408.5 L1802.0 1408.5 L1805.0 1408.4 L1808.0 1408.4 L1811.0 1408.4 L1814.0 1408.4 L1817.0 1408.4 L1820.0 1408.4 L1823.0 1408.4 L1826.0 1408.4 L1829.0 1408.4 L1832.0 1408.4 L1835.0 1408.3 L1838.0 1408.3 L1841.0 1408.3 L1844.0 1408.3 L1847.0 1408.3 L1850.0 1408.3 L1853.0 1408.3 L1856.0 1408.3 L1859.0 1408.3 L1862.0 1408.3 L1865.0 1408.3 L1868.0 1408.3 L1871.0 1408.3 L1874.0 1408.2 L1877.0 1408.2 L1880.0 1408.2 L1883.0 1408.2 L1886.0 1408.2 L1889.0 1408.2 L1892.0 1408.2 L1895.0 1408.2 L1898.0 1408.2 L1901.0 1408.2 L1904.0 1408.2 L1907.0 1408.2 L1910.0 1408.2 L1913.0 1408.2 L1916.0 1408.2 L1919.0 1408.2 L1922.0 1408.2 L1925.0 1408.2 L1928.0 1408.1 L1931.0 1408.1 L1934.0 1408.1 L1937.0 1408.1 L1940.0 1408.1 L1943.0 1408.1 L1946.0 1408.1 L1949.0 1408.1 L1952.0 1408.1 L1955.0 1408.1 L1958.0 1408.1 L1961.0 1408.1 L1964.0 1408.1 L1967.0 1408.1 L1970.0 1408.1 L1973.0 1408.1 L1976.0 1408.1 L1979.0 1408.0 L1982.0 1408.0 L1985.0 1408.0 L1988.0 1408.0 L1991.0 1408.0 L1994.0 1408.0 L1997.0 1408.0 L2000.0 1408.0 L2003.0 1408.0 L2006.0 1408.0 L2009.0 1408.0 L2012.0 1408.0 L2015.0 1407.9 L2018.0 1407.9 L2021.0 1407.9 L2023.0 1407.9" stroke="#0000ff" stroke-width="8.8"/>
<path d="M122.0 1409.1 L125.0 1409.0 L128.0 1408.9 L131.0 1408.8 L134.0 1408.7 L137.0 1408.6 L140.0 1408.5 L143.0 1408.5 L146.0 1408.4 L149.0 1408.3 L152.0 1408.2 L155.0 1408.2 L158.0 1408.1 L161.0 1408.0 L164.0 1408.0 L167.0 1407.9 L170.0 1407.9 L173.0 1407.8 L176.0 1407.8 L179.0 1407.7 L182.0 1407.7 L185.0 1407.7 L188.0 1407.6 L191.0 1407.6 L194.0 1407.6 L197.0 1407.5 L200.0 1407.5 L203.0 1407.5 L206.0 1407.5 L209.0 1407.5 L212.0 1407.5 L215.0 1407.4 L218.0 1407.4 L221.0 1407.4 L224.0 1407.4 L227.0 1407.4 L230.0 1407.4 L233.0 1407.4 L236.0 1407.4 L239.0 1407.4 L242.0 1407.4 L245.0 1407.4 L248.0 1407.5 L251.0 1407.5 L254.0 1407.5 L257.0 1407.5 L260.0 1407.5 L263.0 1407.5 L266.0 1407.5 L269.0 1407.6 L272.0 1407.6 L275.0 1407.6 L278.0 1407.6 L281.0 1407.6 L284.0 1407.7 L287.0 1407.7 L290.0 1407.7 L293.0 1407.7 L296.0 1407.8 L299.0 1407.8 L302.0 1407.8 L305.0 1407.8 L308.0 1407.9 L311.0 1407.9 L314.0 1407.9 L317.0 1408.0 L320.0 1408.0 L323.0 1408.0 L326.0 1408.0 L329.0 1408.1 L332.0 1408.1 L335.0 1408.1 L338.0 1408.1 L341.0 1408.2 L344.0 1408.2 L347.0 1408.2 L350.0 1408.2 L353.0 1408.3 L356.0 1408.3 L359.0 1408.3 L362.0 1408.3 L365.0 1408.4 L368.0 1408.4 L371.0 1408.4 L374.0 1408.4 L377.0 1408.4 L380.0 1408.5 L383.0 1408.5 L386.0 1408.5 L389.0 1408.5 L392.0 1408.5 L395.0 1408.5 L398.0 1408.5 L401.0 1408.5 L404.0 1408.5 L407.0 1408.5 L410.0 1408.5 L413.0 1408.5 L416.0 1408.5 L419.0 1408.5 L422.0 1408.5 L425.0 1408.5 L428.0 1408.5 L431.0 1408.5 L434.0 1408.5 L437.0 1408.4 L440.0 1408.4 L443.0 1408.4 L446.0 1408.4 L449.0 1408.3 L452.0 1408.3 L455.0 1408.3 L458.0 1408.2 L461.0 1408.2 L464.0 1408.1 L467.0 1408.1 L470.0 1408.0 L473.0 1408.0 L476.0 1407.9 L479.0 1407.9 L482.0 1407.8 L485.0 1407.7 L488.0 1407.7 L491.0 1407.6 L494.0 1407.5 L497.0 1407.5 L500.0 1407.4 L503.0 1407.3 L506.0 1407.2 L509.0 1407.1 L512.0 1407.0 L515.0 1406.9 L518.0 1406.8 L521.0 1406.7 L524.0 1406.6 L527.0 1406.4 L530.0 1406.3 L533.0 1406.2 L536.0 1406.0 L539.0 1405.9 L542.0 1405.8 L545.0 1405.6 L548.0 1405.5 L551.0 1405.3 L554.0 1405.2 L557.0 1405.0 L560.0 1404.8 L563.0 1404.6 L566.0 1404.5 L569.0 1404.3 L572.0 1404.1 L575.0 1403.9 L578.0 1403.7 L581.0 1403.5 L584.0 1403.3 L587.0 1403.0 L590.0 1402.8 L593.0 1402.6 L596.0 1402.3 L599.0 1402.1 L602.0 1401.9 L605.0 1401.6 L608.0 1401.3 L611.0 1401.0 L614.0 1400.6 L617.0 1400.3 L620.0 1399.9 L623.0 1399.4 L626.0 1398.9 L629.0 1398.4 L632.0 1397.7 L635.0 1397.1 L638.0 1396.3 L641.0 1395.5 L644.0 1394.6 L647.0 1393.7 L650.0 1392.6 L653.0 1391.5 L656.0 1390.3 L659.0 1389.0 L662.0 1387.5 L665.0 1386.0 L668.0 1384.4 L671.0 1382.7 L674.0 1380.9 L677.0 1379.0 L680.0 1377.1 L683.0 1375.0 L686.0 1372.9 L689.0 1370.7 L692.0 1368.4 L695.0 1366.0 L698.0 1363.5 L701.0 1361.0 L704.0 1358.4 L707.0 1355.7 L710.0 1352.9 L713.0 1350.1 L716.0 1347.2 L719.0 1344.3 L722.0 1341.2 L725.0 1338.2 L728.0 1335.0 L731.0 1331.8 L734.0 1328.6 L737.0 1325.3 L740.0 1321.9 L743.0 1318.5 L746.0 1315.1 L749.0 1311.6 L752.0 1308.1 L755.0 1304.6 L758.0 1301.0 L761.0 1297.5 L764.0 1293.8 L767.0 1290.2 L770.0 1286.6 L773.0 1282.9 L776.0 1279.3 L779.0 1275.6 L782.0 1271.9 L785.0 1268.2 L788.0 1264.5 L791.0 1260.9 L794.0 1257.2 L797.0 1253.6 L800.0 1249.9 L803.0 1246.3 L806.0 1242.7 L809.0 1239.2 L812.0 1235.6 L815.0 1232.1 L818.0 1228.6 L821.0 1225.2 L824.0 1221.8 L827.0 1218.5 L830.0 1215.2 L833.0 1211.9 L836.0 1208.8 L839.0 1205.6 L842.0 1202.6 L845.0 1199.6 L848.0 1196.6 L851.0 1193.8 L854.0 1191.0 L857.0 1188.3 L860.0 1185.6 L863.0 1183.1 L866.0 1180.7 L869.0 1178.3 L872.0 1176.0 L875.0 1173.9 L878.0 1171.8 L881.0 1169.8 L884.0 1168.0 L887.0 1166.3 L890.0 1164.6 L893.0 1163.1 L896.0 1161.8 L899.0 1160.5 L902.0 1159.4 L905.0 1158.4 L908.0 1157.5 L911.0 1156.7 L914.0 1156.1 L917.0 1155.6 L920.0 1155.2 L923.0 1154.9 L926.0 1154.7 L929.0 1154.7 L932.0 1154.8 L935.0 1154.9 L938.0 1155.3 L941.0 1155.7 L944.0 1156.2 L947.0 1156.9 L950.0 1157.6 L953.0 1158.5 L956.0 1159.5 L959.0 1160.6 L962.0 1161.8 L965.0 1163.1 L968.0 1164.5 L971.0 1166.0 L974.0 1167.6 L977.0 1169.4 L980.0 1171.1 L983.0 1173.0 L986.0 1175.0 L989.0 1177.1 L992.0 1179.2 L995.0 1181.4 L998.0 1183.7 L1001.0 1186.1 L1004.0 1188.5 L1007.0 1191.0 L1010.0 1193.6 L1013.0 1196.2 L1016.0 1198.9 L1019.0 1201.7 L1022.0 1204.5 L1025.0 1207.3 L1028.0 1210.2 L1031.0 1213.2 L1034.0 1216.2 L1037.0 1219.2 L1040.0 1222.3 L1043.0 1225.4 L1046.0 1228.6 L1049.0 1231.8 L1052.0 1235.0 L1055.0 1238.2 L1058.0 1241.5 L1061.0 1244.7 L1064.0 1248.0 L1067.0 1251.3 L1070.0 1254.6 L1073.0 1258.0 L1076.0 1261.3 L1079.0 1264.7 L1082.0 1268.0 L1085.0 1271.3 L1088.0 1274.7 L1091.0 1278.0 L1094.0 1281.3 L1097.0 1284.6 L1100.0 1287.9 L1103.0 1291.1 L1106.0 1294.4 L1109.0 1297.6 L1112.0 1300.8 L1115.0 1303.9 L1118.0 1307.0 L1121.0 1310.1 L1124.0 1313.2 L1127.0 1316.2 L1130.0 1319.1 L1133.0 1322.0 L1136.0 1324.9 L1139.0 1327.7 L1142.0 1330.4 L1145.0 1333.1 L1148.0 1335.8 L1151.0 1338.4 L1154.0 1340.9 L1157.0 1343.4 L1160.0 1345.9 L1163.0 1348.3 L1166.0 1350.6 L1169.0 1352.9 L1172.0 1355.2 L1175.0 1357.4 L1178.0 1359.5 L1181.0 1361.6 L1184.0 1363.7 L1187.0 1365.7 L1190.0 1367.6 L1193.0 1369.5 L1196.0 1371.3 L1199.0 1373.1 L1202.0 1374.8 L1205.0 1376.5 L1208.0 1378.1 L1211.0 1379.7 L1214.0 1381.2 L1217.0 1382.6 L1220.0 1384.1 L1223.0 1385.4 L1226.0 1386.7 L1229.0 1388.0 L1232.0 1389.2 L1235.0 1390.3 L1238.0 1391.4 L1241.0 1392.5 L1244.0 1393.4 L1247.0 1394.4 L1250.0 1395.3 L1253.0 1396.1 L1256.0 1396.9 L1259.0 1397.6 L1262.0 1398.3 L1265.0 1399.0 L1268.0 1399.6 L1271.0 1400.2 L1274.0 1400.7 L1277.0 1401.2 L1280.0 1401.7 L1283.0 1402.2 L1286.0 1402.6 L1289.0 1403.0 L1292.0 1403.4 L1295.0 1403.8 L1298.0 1404.2 L1301.0 1404.6 L1304.0 1405.0 L1307.0 1405.3 L1310.0 1405.7 L1313.0 1406.1 L1316.0 1406.4 L1319.0 1406.8 L1322.0 1407.2 L1325.0 1407.6 L1328.0 1408.0 L1331.0 1408.4 L1334.0 1408.7 L1337.0 1409.1 L1340.0 1409.5 L1343.0 1409.9 L1346.0 1410.3 L1349.0 1410.7 L1352.0 1411.1 L1355.0 1411.4 L1358.0 1411.8 L1361.0 1412.2 L1364.0 1412.6 L1367.0 1412.9 L1370.0 1413.3 L1373.0 1413.7 L1376.0 1414.0 L1379.0 1414.4 L1382.0 1414.7 L1385.0 1415.0 L1388.0 1415.4 L1391.0 1415.7 L1394.0 1416.0 L1397.0 1416.3 L1400.0 1416.6 L1403.0 1416.9 L1406.0 1417.2 L1409.0 1417.5 L1412.0 1417.7 L1415.0 1418.0 L1418.0 1418.2 L1421.0 1418.4 L1424.0 1418.7 L1427.0 1418.9 L1430.0 1419.1 L1433.0 1419.2 L1436.0 1419.4 L1439.0 1419.6 L1442.0 1419.7 L1445.0 1419.8 L1448.0 1419.9 L1451.0 1420.0 L1454.0 1420.0 L1457.0 1420.1 L1460.0 1420.1 L1463.0 1420.1 L1466.0 1420.0 L1469.0 1420.0 L1472.0 1419.9 L1475.0 1419.8 L1478.0 1419.6 L1481.0 1419.4 L1484.0 1419.2 L1487.0 1418.9 L1490.0 1418.6 L1493.0 1418.3 L1496.0 1418.0 L1499.0 1417.6 L1502.0 1417.2 L1505.0 1416.7 L1508.0 1416.3 L1511.0 1415.8 L1514.0 1415.3 L1517.0 1414.8 L1520.0 1414.2 L1523.0 1413.7 L1526.0 1413.2 L1529.0 1412.7 L1532.0 1412.1 L1535.0 1411.6 L1538.0 1411.1 L1541.0 1410.6 L1544.0 1410.2 L1547.0 1409.7 L1550.0 1409.3 L1553.0 1408.9 L1556.0 1408.5 L1559.0 1408.2 L1562.0 1407.8 L1565.0 1407.5 L1568.0 1407.2 L1571.0 1407.0 L1574.0 1406.7 L1577.0 1406.5 L1580.0 1406.2 L1583.0 1406.0 L1586.0 1405.8 L1589.0 1405.7 L1592.0 1405.5 L1595.0 1405.4 L1598.0 1405.2 L1601.0 1405.1 L1604.0 1405.0 L1607.0 1404.9 L1610.0 1404.9 L1613.0 1404.8 L1616.0 1404.7 L1619.0 1404.7 L1622.0 1404.6 L1625.0 1404.6 L1628.0 1404.6 L1631.0 1404.6 L1634.0 1404.5 L1637.0 1404.5 L1640.0 1404.5 L1643.0 1404.5 L1646.0 1404.6 L1649.0 1404.6 L1652.0 1404.6 L1655.0 1404.6 L1658.0 1404.6 L1661.0 1404.6 L1664.0 1404.7 L1667.0 1404.7 L1670.0 1404.7 L1673.0 1404.7 L1676.0 1404.7 L1679.0 1404.8 L1682.0 1404.8 L1685.0 1404.8 L1688.0 1404.8 L1691.0 1404.8 L1694.0 1404.9 L1697.0 1404.9 L1700.0 1404.9 L1703.0 1404.9 L1706.0 1404.9 L1709.0 1405.0 L1712.0 1405.0 L1715.0 1405.0 L1718.0 1405.0 L1721.0 1405.0 L1724.0 1405.0 L1727.0 1405.1 L1730.0 1405.1 L1733.0 1405.1 L1736.0 1405.1 L1739.0 1405.1 L1742.0 1405.1 L1745.0 1405.2 L1748.0 1405.2 L1751.0 1405.2 L1754.0 1405.2 L1757.0 1405.2 L1760.0 1405.2 L1763.0 1405.2 L1766.0 1405.3 L1769.0 1405.3 L1772.0 1405.3 L1775.0 1405.3 L1778.0 1405.3 L1781.0 1405.3 L1784.0 1405.3 L1787.0 1405.3 L1790.0 1405.3 L1793.0 1405.3 L1796.0 1405.4 L1799.0 1405.4 L1802.0 1405.4 L1805.0 1405.4 L1808.0 1405.4 L1811.0 1405.4 L1814.0 1405.4 L1817.0 1405.4 L1820.0 1405.4 L1823.0 1405.4 L1826.0 1405.4 L1829.0 1405.4 L1832.0 1405.4 L1835.0 1405.4 L1838.0 1405.4 L1841.0 1405.4 L1844.0 1405.4 L1847.0 1405.4 L1850.0 1405.4 L1853.0 1405.4 L1856.0 1405.5 L1859.0 1405.5 L1862.0 1405.5 L1865.0 1405.5 L1868.0 1405.5 L1871.0 1405.5 L1874.0 1405.5 L1877.0 1405.5 L1880.0 1405.5 L1883.0 1405.5 L1886.0 1405.5 L1889.0 1405.5 L1892.0 1405.5 L1895.0 1405.5 L1898.0 1405.5 L1901.0 1405.5 L1904.0 1405.5 L1907.0 1405.5 L1910.0 1405.5 L1913.0 1405.5 L1916.0 1405.5 L1919.0 1405.5 L1922.0 1405.5 L1925.0 1405.6 L1928.0 1405.6 L1931.0 1405.6 L1934.0 1405.6 L1937.0 1405.6 L1940.0 1405.6 L1943.0 1405.6 L1946.0 1405.6 L1949.0 1405.6 L1952.0 1405.6 L1955.0 1405.7 L1958.0 1405.7 L1961.0 1405.7 L1964.0 1405.7 L1967.0 1405.7 L1970.0 1405.7 L1973.0 1405.7 L1976.0 1405.8 L1979.0 1405.8 L1982.0 1405.8 L1985.0 1405.8 L1988.0 1405.8 L1991.0 1405.9 L1994.0 1405.9 L1997.0 1405.9 L2000.0 1405.9 L2003.0 1406.0 L2006.0 1406.0 L2009.0 1406.0 L2012.0 1406.0 L2015.0 1406.1 L2018.0 1406.1 L2021.0 1406.1 L2023.0 1406.1" stroke="#ff00ff" stroke-width="8.8"/>
<path d="M122.0 1404.2 L125.0 1404.4 L128.0 1404.6 L131.0 1404.8 L134.0 1405.0 L137.0 1405.1 L140.0 1405.3 L143.0 1405.4 L146.0 1405.4 L149.0 1405.5 L152.0 1405.6 L155.0 1405.6 L158.0 1405.6 L161.0 1405.6 L164.0 1405.6 L167.0 1405.6 L170.0 1405.5 L173.0 1405.5 L176.0 1405.4 L179.0 1405.4 L182.0 1405.3 L185.0 1405.2 L188.0 1405.1 L191.0 1405.1 L194.0 1405.0 L197.0 1404.9 L200.0 1404.8 L203.0 1404.7 L206.0 1404.6 L209.0 1404.5 L212.0 1404.5 L215.0 1404.4 L218.0 1404.3 L221.0 1404.3 L224.0 1404.2 L227.0 1404.2 L230.0 1404.2 L233.0 1404.2 L236.0 1404.2 L239.0 1404.2 L242.0 1404.2 L245.0 1404.3 L248.0 1404.3 L251.0 1404.4 L254.0 1404.5 L257.0 1404.6 L260.0 1404.7 L263.0 1404.8 L266.0 1404.9 L269.0 1405.0 L272.0 1405.1 L275.0 1405.1 L278.0 1405.2 L281.0 1405.3 L284.0 1405.4 L287.0 1405.4 L290.0 1405.5 L293.0 1405.5 L296.0 1405.5 L299.0 1405.5 L302.0 1405.4 L305.0 1405.3 L308.0 1405.2 L311.0 1405.1 L314.0 1405.0 L317.0 1404.8 L320.0 1404.5 L323.0 1404.2 L326.0 1403.9 L329.0 1403.6 L332.0 1403.2 L335.0 1402.7 L338.0 1402.2 L341.0 1401.7 L344.0 1401.1 L347.0 1400.4 L350.0 1399.7 L353.0 1398.9 L356.0 1398.0 L359.0 1397.1 L362.0 1396.2 L365.0 1395.1 L368.0 1394.0 L371.0 1392.8 L374.0 1391.6 L377.0 1390.3 L380.0 1388.9 L383.0 1387.4 L386.0 1385.9 L389.0 1384.3 L392.0 1382.7 L395.0 1381.0 L398.0 1379.2 L401.0 1377.4 L404.0 1375.5 L407.0 1373.5 L410.0 1371.5 L413.0 1369.4 L416.0 1367.3 L419.0 1365.1 L422.0 1362.8 L425.0 1360.5 L428.0 1358.1 L431.0 1355.7 L434.0 1353.2 L437.0 1350.7 L440.0 1348.1 L443.0 1345.4 L446.0 1342.7 L449.0 1339.9 L452.0 1337.1 L455.0 1334.2 L458.0 1331.3 L461.0 1328.3 L464.0 1325.3 L467.0 1322.2 L470.0 1319.0 L473.0 1315.9 L476.0 1312.6 L479.0 1309.3 L482.0 1306.0 L485.0 1302.6 L488.0 1299.2 L491.0 1295.7 L494.0 1292.2 L497.0 1288.6 L500.0 1284.9 L503.0 1281.3 L506.0 1277.5 L509.0 1273.8 L512.0 1269.9 L515.0 1266.1 L518.0 1262.1 L521.0 1258.2 L524.0 1254.1 L527.0 1250.1 L530.0 1246.0 L533.0 1241.8 L536.0 1237.6 L539.0 1233.3 L542.0 1229.0 L545.0 1224.6 L548.0 1220.2 L551.0 1215.8 L554.0 1211.2 L557.0 1206.7 L560.0 1202.1 L563.0 1197.4 L566.0 1192.7 L569.0 1187.9 L572.0 1183.1 L575.0 1178.3 L578.0 1173.4 L581.0 1168.4 L584.0 1163.4 L587.0 1158.4 L590.0 1153.3 L593.0 1148.1 L596.0 1142.9 L599.0 1137.6 L602.0 1132.3 L605.0 1127.0 L608.0 1121.6 L611.0 1116.1 L614.0 1110.5 L617.0 1104.9 L620.0 1099.2 L623.0 1093.5 L626.0 1087.6 L629.0 1081.7 L632.0 1075.7 L635.0 1069.6 L638.0 1063.5 L641.0 1057.2 L644.0 1050.9 L647.0 1044.4 L650.0 1037.9 L653.0 1031.2 L656.0 1024.5 L659.0 1017.6 L662.0 1010.6 L665.0 1003.6 L668.0 996.6 L671.0 989.5 L674.0 982.4 L677.0 975.3 L680.0 968.2 L683.0 961.2 L686.0 954.3 L689.0 947.4 L692.0 940.7 L695.0 934.0 L698.0 927.3 L701.0 920.7 L704.0 914.1 L707.0 907.5 L710.0 900.8 L713.0 894.2 L716.0 887.4 L719.0 880.7 L722.0 873.8 L725.0 866.9 L728.0 860.0 L731.0 853.0 L734.0 845.9 L737.0 838.9 L740.0 831.8 L743.0 824.7 L746.0 817.6 L749.0 810.5 L752.0 803.4 L755.0 796.3 L758.0 789.2 L761.0 782.1 L764.0 775.0 L767.0 768.0 L770.0 761.0 L773.0 754.1 L776.0 747.2 L779.0 740.4 L782.0 733.6 L785.0 726.9 L788.0 720.3 L791.0 713.8 L794.0 707.3 L797.0 700.9 L800.0 694.7 L803.0 688.5 L806.0 682.5 L809.0 676.6 L812.0 670.8 L815.0 665.1 L818.0 659.6 L821.0 654.2 L824.0 648.9 L827.0 643.8 L830.0 638.9 L833.0 634.2 L836.0 629.6 L839.0 625.2 L842.0 620.9 L845.0 616.9 L848.0 613.0 L851.0 609.4 L854.0 605.9 L857.0 602.6 L860.0 599.5 L863.0 596.5 L866.0 593.8 L869.0 591.2 L872.0 588.9 L875.0 586.7 L878.0 584.7 L881.0 582.9 L884.0 581.3 L887.0 579.9 L890.0 578.7 L893.0 577.7 L896.0 576.9 L899.0 576.3 L902.0 575.9 L905.0 575.7 L908.0 575.7 L911.0 575.9 L914.0 576.3 L917.0 576.9 L920.0 577.7 L923.0 578.7 L926.0 579.9 L929.0 581.3 L932.0 583.0 L935.0 584.8 L938.0 586.8 L941.0 589.1 L944.0 591.6 L947.0 594.3 L950.0 597.2 L953.0 600.3 L956.0 603.6 L959.0 607.2 L962.0 611.0 L965.0 615.0 L968.0 619.2 L971.0 623.7 L974.0 628.4 L977.0 633.4 L980.0 638.6 L983.0 644.1 L986.0 649.9 L989.0 655.9 L992.0 662.1 L995.0 668.4 L998.0 674.7 L1001.0 680.8 L1004.0 686.8 L1007.0 692.6 L1010.0 698.1 L1013.0 703.7 L1016.0 709.2 L1019.0 715.0 L1022.0 721.0 L1025.0 727.1 L1028.0 733.3 L1031.0 739.8 L1034.0 746.3 L1037.0 753.0 L1040.0 759.7 L1043.0 766.6 L1046.0 773.6 L1049.0 780.6 L1052.0 787.7 L1055.0 794.8 L1058.0 802.0 L1061.0 809.2 L1064.0 816.5 L1067.0 823.7 L1070.0 830.9 L1073.0 838.1 L1076.0 845.2 L1079.0 852.4 L1082.0 859.5 L1085.0 866.6 L1088.0 873.7 L1091.0 880.7 L1094.0 887.8 L1097.0 894.8 L1100.0 901.7 L1103.0 908.7 L1106.0 915.6 L1109.0 922.5 L1112.0 929.4 L1115.0 936.3 L1118.0 943.1 L1121.0 949.9 L1124.0 956.7 L1127.0 963.5 L1130.0 970.2 L1133.0 976.9 L1136.0 983.6 L1139.0 990.3 L1142.0 996.9 L1145.0 1003.5 L1148.0 1010.1 L1151.0 1016.7 L1154.0 1023.2 L1157.0 1029.7 L1160.0 1036.2 L1163.0 1042.6 L1166.0 1049.0 L1169.0 1055.4 L1172.0 1061.8 L1175.0 1068.1 L1178.0 1074.4 L1181.0 1080.7 L1184.0 1087.0 L1187.0 1093.2 L1190.0 1099.4 L1193.0 1105.6 L1196.0 1111.7 L1199.0 1117.8 L1202.0 1123.9 L1205.0 1129.9 L1208.0 1135.9 L1211.0 1141.9 L1214.0 1147.9 L1217.0 1153.8 L1220.0 1159.7 L1223.0 1165.5 L1226.0 1171.3 L1229.0 1177.1 L1232.0 1182.8 L1235.0 1188.5 L1238.0 1194.1 L1241.0 1199.7 L1244.0 1205.3 L1247.0 1210.8 L1250.0 1216.3 L1253.0 1221.7 L1256.0 1227.1 L1259.0 1232.4 L1262.0 1237.7 L1265.0 1242.9 L1268.0 1248.0 L1271.0 1253.1 L1274.0 1258.0 L1277.0 1262.9 L1280.0 1267.7 L1283.0 1272.3 L1286.0 1276.9 L1289.0 1281.3 L1292.0 1285.7 L1295.0 1289.8 L1298.0 1293.9 L1301.0 1297.8 L1304.0 1301.6 L1307.0 1305.2 L1310.0 1308.7 L1313.0 1312.0 L1316.0 1315.1 L1319.0 1318.1 L1322.0 1321.1 L1325.0 1323.9 L1328.0 1326.7 L1331.0 1329.4 L1334.0 1332.1 L1337.0 1334.8 L1340.0 1337.5 L1343.0 1340.3 L1346.0 1343.0 L1349.0 1345.8 L1352.0 1348.6 L1355.0 1351.4 L1358.0 1354.2 L1361.0 1357.0 L1364.0 1359.8 L1367.0 1362.6 L1370.0 1365.4 L1373.0 1368.1 L1376.0 1370.8 L1379.0 1373.4 L1382.0 1376.0 L1385.0 1378.5 L1388.0 1380.9 L1391.0 1383.2 L1394.0 1385.4 L1397.0 1387.5 L1400.0 1389.4 L1403.0 1391.2 L1406.0 1392.9 L1409.0 1394.4 L1412.0 1395.8 L1415.0 1397.1 L1418.0 1398.3 L1421.0 1399.4 L1424.0 1400.4 L1427.0 1401.4 L1430.0 1402.3 L1433.0 1403.1 L1436.0 1403.9 L1439.0 1404.7 L1442.0 1405.4 L1445.0 1406.1 L1448.0 1406.7 L1451.0 1407.3 L1454.0 1407.8 L1457.0 1408.3 L1460.0 1408.8 L1463.0 1409.2 L1466.0 1409.6 L1469.0 1410.0 L1472.0 1410.3 L1475.0 1410.6 L1478.0 1410.9 L1481.0 1411.1 L1484.0 1411.3 L1487.0 1411.5 L1490.0 1411.7 L1493.0 1411.8 L1496.0 1411.9 L1499.0 1412.0 L1502.0 1412.1 L1505.0 1412.2 L1508.0 1412.2 L1511.0 1412.3 L1514.0 1412.3 L1517.0 1412.3 L1520.0 1412.3 L1523.0 1412.3 L1526.0 1412.2 L1529.0 1412.2 L1532.0 1412.2 L1535.0 1412.1 L1538.0 1412.1 L1541.0 1412.0 L1544.0 1412.0 L1547.0 1411.9 L1550.0 1411.9 L1553.0 1411.8 L1556.0 1411.8 L1559.0 1411.7 L1562.0 1411.7 L1565.0 1411.6 L1568.0 1411.6 L1571.0 1411.5 L1574.0 1411.5 L1577.0 1411.4 L1580.0 1411.4 L1583.0 1411.4 L1586.0 1411.3 L1589.0 1411.3 L1592.0 1411.2 L1595.0 1411.2 L1598.0 1411.1 L1601.0 1411.1 L1604.0 1411.1 L1607.0 1411.0 L1610.0 1411.0 L1613.0 1410.9 L1616.0 1410.9 L1619.0 1410.9 L1622.0 1410.8 L1625.0 1410.8 L1628.0 1410.7 L1631.0 1410.7 L1634.0 1410.7 L1637.0 1410.6 L1640.0 1410.6 L1643.0 1410.6 L1646.0 1410.5 L1649.0 1410.5 L1652.0 1410.5 L1655.0 1410.4 L1658.0 1410.4 L1661.0 1410.4 L1664.0 1410.3 L1667.0 1410.3 L1670.0 1410.3 L1673.0 1410.2 L1676.0 1410.2 L1679.0 1410.2 L1682.0 1410.1 L1685.0 1410.1 L1688.0 1410.1 L1691.0 1410.0 L1694.0 1410.0 L1697.0 1410.0 L1700.0 1410.0 L1703.0 1409.9 L1706.0 1409.9 L1709.0 1409.9 L1712.0 1409.8 L1715.0 1409.8 L1718.0 1409.8 L1721.0 1409.8 L1724.0 1409.7 L1727.0 1409.7 L1730.0 1409.7 L1733.0 1409.7 L1736.0 1409.6 L1739.0 1409.6 L1742.0 1409.6 L1745.0 1409.6 L1748.0 1409.5 L1751.0 1409.5 L1754.0 1409.5 L1757.0 1409.5 L1760.0 1409.5 L1763.0 1409.4 L1766.0 1409.4 L1769.0 1409.4 L1772.0 1409.4 L1775.0 1409.4 L1778.0 1409.3 L1781.0 1409.3 L1784.0 1409.3 L1787.0 1409.3 L1790.0 1409.3 L1793.0 1409.2 L1796.0 1409.2 L1799.0 1409.2 L1802.0 1409.2 L1805.0 1409.2 L1808.0 1409.2 L1811.0 1409.1 L1814.0 1409.1 L1817.0 1409.1 L1820.0 1409.1 L1823.0 1409.1 L1826.0 1409.1 L1829.0 1409.0 L1832.0 1409.0 L1835.0 1409.0 L1838.0 1409.0 L1841.0 1409.0 L1844.0 1409.0 L1847.0 1409.0 L1850.0 1409.0 L1853.0 1408.9 L1856.0 1408.9 L1859.0 1408.9 L1862.0 1408.9 L1865.0 1408.9 L1868.0 1408.9 L1871.0 1408.9 L1874.0 1408.9 L1877.0 1408.9 L1880.0 1408.8 L1883.0 1408.8 L1886.0 1408.8 L1889.0 1408.8 L1892.0 1408.8 L1895.0 1408.8 L1898.0 1408.8 L1901.0 1408.8 L1904.0 1408.8 L1907.0 1408.8 L1910.0 1408.8 L1913.0 1408.7 L1916.0 1408.7 L1919.0 1408.7 L1922.0 1408.7 L1925.0 1408.7 L1928.0 1408.7 L1931.0 1408.7 L1934.0 1408.7 L1937.0 1408.7 L1940.0 1408.7 L1943.0 1408.7 L1946.0 1408.7 L1949.0 1408.7 L1952.0 1408.7 L1955.0 1408.7 L1958.0 1408.7 L1961.0 1408.7 L1964.0 1408.7 L1967.0 1408.6 L1970.0 1408.6 L1973.0 1408.6 L1976.0 1408.6 L1979.0 1408.6 L1982.0 1408.6 L1985.0 1408.6 L1988.0 1408.6 L1991.0 1408.6 L1994.0 1408.6 L1997.0 1408.6 L2000.0 1408.6 L2003.0 1408.6 L2006.0 1408.6 L2009.0 1408.6 L2012.0 1408.6 L2015.0 1408.6 L2018.0 1408.6 L2021.0 1408.6 L2023.0 1408.6" stroke="#008000" stroke-width="8.8"/>
<path d="M122.0 1405.3 L125.0 1405.3 L128.0 1405.2 L131.0 1405.2 L134.0 1405.1 L137.0 1405.1 L140.0 1405.1 L143.0 1405.0 L146.0 1405.0 L149.0 1405.0 L152.0 1405.0 L155.0 1404.9 L158.0 1404.9 L161.0 1404.9 L164.0 1404.9 L167.0 1404.9 L170.0 1404.9 L173.0 1404.8 L176.0 1404.8 L179.0 1404.8 L182.0 1404.8 L185.0 1404.8 L188.0 1404.8 L191.0 1404.8 L194.0 1404.8 L197.0 1404.8 L200.0 1404.8 L203.0 1404.8 L206.0 1404.8 L209.0 1404.8 L212.0 1404.8 L215.0 1404.8 L218.0 1404.8 L221.0 1404.8 L224.0 1404.8 L227.0 1404.8 L230.0 1404.8 L233.0 1404.9 L236.0 1404.9 L239.0 1404.9 L242.0 1404.9 L245.0 1404.9 L248.0 1404.9 L251.0 1404.9 L254.0 1404.9 L257.0 1404.9 L260.0 1405.0 L263.0 1405.0 L266.0 1405.0 L269.0 1405.0 L272.0 1405.0 L275.0 1405.0 L278.0 1405.0 L281.0 1405.0 L284.0 1405.0 L287.0 1405.1 L290.0 1405.1 L293.0 1405.1 L296.0 1405.1 L299.0 1405.1 L302.0 1405.1 L305.0 1405.1 L308.0 1405.1 L311.0 1405.1 L314.0 1405.1 L317.0 1405.1 L320.0 1405.1 L323.0 1405.1 L326.0 1405.1 L329.0 1405.1 L332.0 1405.1 L335.0 1405.1 L338.0 1405.1 L341.0 1405.1 L344.0 1405.1 L347.0 1405.1 L350.0 1405.1 L353.0 1405.1 L356.0 1405.1 L359.0 1405.0 L362.0 1405.0 L365.0 1405.0 L368.0 1405.0 L371.0 1405.0 L374.0 1404.9 L377.0 1404.9 L380.0 1404.8 L383.0 1404.8 L386.0 1404.7 L389.0 1404.7 L392.0 1404.6 L395.0 1404.5 L398.0 1404.4 L401.0 1404.3 L404.0 1404.1 L407.0 1404.0 L410.0 1403.8 L413.0 1403.6 L416.0 1403.4 L419.0 1403.2 L422.0 1403.0 L425.0 1402.7 L428.0 1402.4 L431.0 1402.1 L434.0 1401.7 L437.0 1401.4 L440.0 1401.0 L443.0 1400.6 L446.0 1400.1 L449.0 1399.6 L452.0 1399.1 L455.0 1398.6 L458.0 1398.0 L461.0 1397.4 L464.0 1396.8 L467.0 1396.1 L470.0 1395.4 L473.0 1394.6 L476.0 1393.8 L479.0 1393.0 L482.0 1392.1 L485.0 1391.2 L488.0 1390.2 L491.0 1389.2 L494.0 1388.2 L497.0 1387.1 L500.0 1385.9 L503.0 1384.8 L506.0 1383.5 L509.0 1382.3 L512.0 1380.9 L515.0 1379.6 L518.0 1378.1 L521.0 1376.7 L524.0 1375.2 L527.0 1373.6 L530.0 1372.0 L533.0 1370.3 L536.0 1368.6 L539.0 1366.9 L542.0 1365.1 L545.0 1363.2 L548.0 1361.3 L551.0 1359.3 L554.0 1357.3 L557.0 1355.2 L560.0 1353.1 L563.0 1350.9 L566.0 1348.6 L569.0 1346.3 L572.0 1344.0 L575.0 1341.6 L578.0 1339.1 L581.0 1336.6 L584.0 1334.0 L587.0 1331.3 L590.0 1328.6 L593.0 1325.9 L596.0 1323.0 L599.0 1320.1 L602.0 1317.2 L605.0 1314.2 L608.0 1311.1 L611.0 1308.0 L614.0 1304.8 L617.0 1301.5 L620.0 1298.2 L623.0 1294.8 L626.0 1291.4 L629.0 1287.9 L632.0 1284.3 L635.0 1280.7 L638.0 1277.0 L641.0 1273.2 L644.0 1269.4 L647.0 1265.5 L650.0 1261.6 L653.0 1257.6 L656.0 1253.5 L659.0 1249.4 L662.0 1245.1 L665.0 1240.9 L668.0 1236.5 L671.0 1232.1 L674.0 1227.6 L677.0 1223.1 L680.0 1218.4 L683.0 1213.7 L686.0 1208.9 L689.0 1204.1 L692.0 1199.1 L695.0 1194.1 L698.0 1189.0 L701.0 1183.8 L704.0 1178.6 L707.0 1173.2 L710.0 1167.8 L713.0 1162.3 L716.0 1156.6 L719.0 1150.9 L722.0 1145.1 L725.0 1139.3 L728.0 1133.3 L731.0 1127.3 L734.0 1121.2 L737.0 1115.1 L740.0 1108.8 L743.0 1102.6 L746.0 1096.3 L749.0 1089.9 L752.0 1083.5 L755.0 1077.1 L758.0 1070.7 L761.0 1064.2 L764.0 1057.7 L767.0 1051.2 L770.0 1044.6 L773.0 1038.1 L776.0 1031.6 L779.0 1025.1 L782.0 1018.5 L785.0 1012.0 L788.0 1005.6 L791.0 999.1 L794.0 992.7 L797.0 986.3 L800.0 979.9 L803.0 973.6 L806.0 967.3 L809.0 961.1 L812.0 954.9 L815.0 948.8 L818.0 942.7 L821.0 936.8 L824.0 930.9 L827.0 925.0 L830.0 919.3 L833.0 913.6 L836.0 908.1 L839.0 902.6 L842.0 897.3 L845.0 892.0 L848.0 886.9 L851.0 881.9 L854.0 877.0 L857.0 872.3 L860.0 867.7 L863.0 863.3 L866.0 859.0 L869.0 854.9 L872.0 850.9 L875.0 847.1 L878.0 843.5 L881.0 840.1 L884.0 836.9 L887.0 833.9 L890.0 831.1 L893.0 828.5 L896.0 826.1 L899.0 824.0 L902.0 822.0 L905.0 820.3 L908.0 818.8 L911.0 817.5 L914.0 816.3 L917.0 815.3 L920.0 814.5 L923.0 813.9 L926.0 813.4 L929.0 813.0 L932.0 812.8 L935.0 812.7 L938.0 812.8 L941.0 813.0 L944.0 813.4 L947.0 813.9 L950.0 814.5 L953.0 815.3 L956.0 816.2 L959.0 817.3 L962.0 818.5 L965.0 819.9 L968.0 821.4 L971.0 823.1 L974.0 824.9 L977.0 826.9 L980.0 829.0 L983.0 831.3 L986.0 833.8 L989.0 836.4 L992.0 839.2 L995.0 842.1 L998.0 845.2 L1001.0 848.4 L1004.0 851.8 L1007.0 855.4 L1010.0 859.2 L1013.0 863.1 L1016.0 867.2 L1019.0 871.4 L1022.0 875.8 L1025.0 880.4 L1028.0 885.1 L1031.0 889.9 L1034.0 894.9 L1037.0 899.9 L1040.0 905.1 L1043.0 910.3 L1046.0 915.6 L1049.0 921.0 L1052.0 926.5 L1055.0 932.0 L1058.0 937.6 L1061.0 943.1 L1064.0 948.7 L1067.0 954.4 L1070.0 960.0 L1073.0 965.6 L1076.0 971.2 L1079.0 976.8 L1082.0 982.3 L1085.0 987.9 L1088.0 993.4 L1091.0 999.0 L1094.0 1004.5 L1097.0 1010.0 L1100.0 1015.5 L1103.0 1021.0 L1106.0 1026.5 L1109.0 1031.9 L1112.0 1037.3 L1115.0 1042.7 L1118.0 1048.1 L1121.0 1053.5 L1124.0 1058.8 L1127.0 1064.2 L1130.0 1069.5 L1133.0 1074.8 L1136.0 1080.0 L1139.0 1085.3 L1142.0 1090.5 L1145.0 1095.7 L1148.0 1100.8 L1151.0 1105.9 L1154.0 1111.1 L1157.0 1116.1 L1160.0 1121.2 L1163.0 1126.2 L1166.0 1131.2 L1169.0 1136.2 L1172.0 1141.1 L1175.0 1146.0 L1178.0 1150.9 L1181.0 1155.7 L1184.0 1160.5 L1187.0 1165.3 L1190.0 1170.0 L1193.0 1174.7 L1196.0 1179.3 L1199.0 1184.0 L1202.0 1188.5 L1205.0 1193.1 L1208.0 1197.6 L1211.0 1202.1 L1214.0 1206.5 L1217.0 1210.9 L1220.0 1215.2 L1223.0 1219.5 L1226.0 1223.8 L1229.0 1228.0 L1232.0 1232.2 L1235.0 1236.3 L1238.0 1240.4 L1241.0 1244.4 L1244.0 1248.4 L1247.0 1252.3 L1250.0 1256.2 L1253.0 1260.0 L1256.0 1263.8 L1259.0 1267.6 L1262.0 1271.2 L1265.0 1274.9 L1268.0 1278.5 L1271.0 1282.0 L1274.0 1285.5 L1277.0 1288.9 L1280.0 1292.3 L1283.0 1295.6 L1286.0 1298.8 L1289.0 1302.0 L1292.0 1305.2 L1295.0 1308.2 L1298.0 1311.3 L1301.0 1314.2 L1304.0 1317.1 L1307.0 1320.0 L1310.0 1322.7 L1313.0 1325.5 L1316.0 1328.1 L1319.0 1330.7 L1322.0 1333.2 L1325.0 1335.7 L1328.0 1338.1 L1331.0 1340.5 L1334.0 1342.8 L1337.0 1345.0 L1340.0 1347.2 L1343.0 1349.3 L1346.0 1351.4 L1349.0 1353.4 L1352.0 1355.4 L1355.0 1357.3 L1358.0 1359.2 L1361.0 1361.0 L1364.0 1362.8 L1367.0 1364.5 L1370.0 1366.2 L1373.0 1367.8 L1376.0 1369.4 L1379.0 1370.9 L1382.0 1372.4 L1385.0 1373.9 L1388.0 1375.3 L1391.0 1376.6 L1394.0 1378.0 L1397.0 1379.2 L1400.0 1380.5 L1403.0 1381.7 L1406.0 1382.8 L1409.0 1383.9 L1412.0 1385.0 L1415.0 1386.1 L1418.0 1387.1 L1421.0 1388.1 L1424.0 1389.0 L1427.0 1389.9 L1430.0 1390.8 L1433.0 1391.6 L1436.0 1392.4 L1439.0 1393.2 L1442.0 1394.0 L1445.0 1394.7 L1448.0 1395.4 L1451.0 1396.1 L1454.0 1396.7 L1457.0 1397.3 L1460.0 1397.9 L1463.0 1398.5 L1466.0 1399.1 L1469.0 1399.6 L1472.0 1400.1 L1475.0 1400.6 L1478.0 1401.1 L1481.0 1401.6 L1484.0 1402.1 L1487.0 1402.5 L1490.0 1402.9 L1493.0 1403.3 L1496.0 1403.7 L1499.0 1404.1 L1502.0 1404.5 L1505.0 1404.9 L1508.0 1405.3 L1511.0 1405.6 L1514.0 1406.0 L1517.0 1406.4 L1520.0 1406.7 L1523.0 1407.1 L1526.0 1407.4 L1529.0 1407.8 L1532.0 1408.1 L1535.0 1408.5 L1538.0 1408.8 L1541.0 1409.2 L1544.0 1409.6 L1547.0 1409.9 L1550.0 1410.3 L1553.0 1410.7 L1556.0 1411.1 L1559.0 1411.5 L1562.0 1411.9 L1565.0 1412.3 L1568.0 1412.7 L1571.0 1413.0 L1574.0 1413.4 L1577.0 1413.8 L1580.0 1414.2 L1583.0 1414.6 L1586.0 1415.0 L1589.0 1415.4 L1592.0 1415.7 L1595.0 1416.1 L1598.0 1416.5 L1601.0 1416.8 L1604.0 1417.2 L1607.0 1417.5 L1610.0 1417.8 L1613.0 1418.1 L1616.0 1418.4 L1619.0 1418.7 L1622.0 1419.0 L1625.0 1419.3 L1628.0 1419.5 L1631.0 1419.7 L1634.0 1420.0 L1637.0 1420.2 L1640.0 1420.3 L1643.0 1420.5 L1646.0 1420.6 L1649.0 1420.8 L1652.0 1420.9 L1655.0 1420.9 L1658.0 1421.0 L1661.0 1421.0 L1664.0 1421.0 L1667.0 1421.0 L1670.0 1421.0 L1673.0 1420.9 L1676.0 1420.9 L1679.0 1420.8 L1682.0 1420.6 L1685.0 1420.5 L1688.0 1420.3 L1691.0 1420.1 L1694.0 1420.0 L1697.0 1419.7 L1700.0 1419.5 L1703.0 1419.3 L1706.0 1419.0 L1709.0 1418.8 L1712.0 1418.5 L1715.0 1418.2 L1718.0 1417.9 L1721.0 1417.6 L1724.0 1417.3 L1727.0 1417.0 L1730.0 1416.7 L1733.0 1416.4 L1736.0 1416.1 L1739.0 1415.7 L1742.0 1415.4 L1745.0 1415.1 L1748.0 1414.8 L1751.0 1414.4 L1754.0 1414.1 L1757.0 1413.8 L1760.0 1413.5 L1763.0 1413.2 L1766.0 1412.9 L1769.0 1412.6 L1772.0 1412.3 L1775.0 1412.1 L1778.0 1411.8 L1781.0 1411.5 L1784.0 1411.3 L1787.0 1411.1 L1790.0 1410.9 L1793.0 1410.7 L1796.0 1410.5 L1799.0 1410.3 L1802.0 1410.1 L1805.0 1410.0 L1808.0 1409.8 L1811.0 1409.7 L1814.0 1409.6 L1817.0 1409.5 L1820.0 1409.4 L1823.0 1409.3 L1826.0 1409.2 L1829.0 1409.1 L1832.0 1409.1 L1835.0 1409.0 L1838.0 1408.9 L1841.0 1408.9 L1844.0 1408.9 L1847.0 1408.8 L1850.0 1408.8 L1853.0 1408.8 L1856.0 1408.8 L1859.0 1408.8 L1862.0 1408.8 L1865.0 1408.8 L1868.0 1408.8 L1871.0 1408.8 L1874.0 1408.8 L1877.0 1408.9 L1880.0 1408.9 L1883.0 1408.9 L1886.0 1408.9 L1889.0 1409.0 L1892.0 1409.0 L1895.0 1409.0 L1898.0 1409.1 L1901.0 1409.1 L1904.0 1409.2 L1907.0 1409.2 L1910.0 1409.2 L1913.0 1409.3 L1916.0 1409.3 L1919.0 1409.4 L1922.0 1409.4 L1925.0 1409.4 L1928.0 1409.5 L1931.0 1409.5 L1934.0 1409.5 L1937.0 1409.6 L1940.0 1409.6 L1943.0 1409.6 L1946.0 1409.6 L1949.0 1409.6 L1952.0 1409.6 L1955.0 1409.6 L1958.0 1409.6 L1961.0 1409.6 L1964.0 1409.6 L1967.0 1409.6 L1970.0 1409.6 L1973.0 1409.5 L1976.0 1409.5 L1979.0 1409.5 L1982.0 1409.4 L1985.0 1409.3 L1988.0 1409.3 L1991.0 1409.2 L1994.0 1409.1 L1997.0 1409.0 L2000.0 1408.9 L2003.0 1408.8 L2006.0 1408.7 L2009.0 1408.5 L2012.0 1408.4 L2015.0 1408.2 L2018.0 1408.0 L2021.0 1407.9 L2023.0 1407.7" stroke="#000080" stroke-width="8.8"/>
<path d="M121.0 1405.4 L123.0 1361.0 L125.0 1361.0 L127.0 1418.8 L129.0 1403.7 L131.0 1424.0 L133.0 1402.0 L135.0 1423.6 L137.0 1406.4 L139.0 1382.0 L141.0 1382.0 L143.0 1419.2 L145.0 1403.4 L147.0 1420.6 L149.0 1404.8 L151.0 1421.4 L153.0 1407.5 L155.0 1390.0 L157.0 1390.0 L159.0 1424.9 L161.0 1403.2 L163.0 1418.3 L165.0 1405.4 L167.0 1417.4 L169.0 1402.2 L171.0 1421.1 L173.0 1404.6 L175.0 1424.3 L177.0 1405.5 L179.0 1421.1 L181.0 1404.7 L183.0 1419.0 L185.0 1402.1 L187.0 1418.5 L189.0 1384.0 L191.0 1384.0 L193.0 1404.0 L195.0 1417.0 L197.0 1406.6 L199.0 1418.2 L201.0 1403.5 L203.0 1424.0 L205.0 1404.8 L207.0 1423.8 L209.0 1405.5 L211.0 1422.9 L213.0 1402.5 L215.0 1421.3 L217.0 1404.8 L219.0 1424.0 L221.0 1404.0 L223.0 1421.8 L225.0 1402.3 L227.0 1420.1 L229.0 1403.8 L231.0 1418.2 L233.0 1406.5 L235.0 1420.0 L237.0 1407.4 L239.0 1421.7 L241.0 1405.3 L243.0 1422.1 L245.0 1405.7 L247.0 1418.2 L249.0 1404.4 L251.0 1418.9 L253.0 1404.2 L255.0 1417.8 L257.0 1407.3 L259.0 1418.7 L261.0 1405.7 L263.0 1419.4 L265.0 1406.8 L267.0 1422.3 L269.0 1402.7 L271.0 1423.8 L273.0 1407.2 L275.0 1424.2 L277.0 1405.1 L279.0 1418.2 L281.0 1403.1 L283.0 1424.4 L285.0 1405.0 L287.0 1418.4 L289.0 1406.9 L291.0 1422.1 L293.0 1405.1 L295.0 1420.0 L297.0 1404.3 L299.0 1418.9 L301.0 1402.2 L303.0 1424.0 L305.0 1404.6 L307.0 1421.4 L309.0 1403.8 L311.0 1423.0 L313.0 1402.1 L315.0 1420.0 L317.0 1402.2 L319.0 1418.0 L321.0 1407.3 L323.0 1422.3 L325.0 1404.4 L327.0 1421.2 L329.0 1406.8 L331.0 1419.8 L333.0 1405.2 L335.0 1422.5 L337.0 1404.0 L339.0 1421.2 L341.0 1406.2 L343.0 1424.3 L345.0 1402.8 L347.0 1424.5 L349.0 1402.0 L351.0 1423.0 L353.0 1406.5 L355.0 1418.1 L357.0 1404.3 L359.0 1423.5 L361.0 1402.1 L363.0 1422.0 L365.0 1406.4 L367.0 1421.1 L369.0 1406.0 L371.0 1418.8 L373.0 1403.1 L375.0 1419.9 L377.0 1403.0 L379.0 1419.8 L381.0 1407.2 L383.0 1421.6 L385.0 1403.9 L387.0 1419.2 L389.0 1407.2 L391.0 1420.6 L393.0 1407.4 L395.0 1421.1 L397.0 1404.9 L399.0 1424.2 L401.0 1406.1 L403.0 1421.6 L405.0 1404.3 L407.0 1424.0 L409.0 1404.3 L411.0 1424.4 L413.0 1402.4 L415.0 1420.4 L417.0 1404.9 L419.0 1424.6 L421.0 1403.4 L423.0 1423.4 L425.0 1405.7 L427.0 1422.7 L429.0 1405.5 L431.0 1424.8 L433.0 1403.8 L435.0 1420.2 L437.0 1403.1 L439.0 1417.4 L441.0 1403.2 L443.0 1424.3 L445.0 1406.6 L447.0 1417.9 L449.0 1405.3 L451.0 1420.8 L453.0 1405.3 L455.0 1422.3 L457.0 1403.7 L459.0 1424.7 L461.0 1404.6 L463.0 1422.0 L465.0 1405.5 L467.0 1418.5 L469.0 1402.3 L471.0 1420.3 L473.0 1406.2 L475.0 1423.5 L477.0 1406.0 L479.0 1417.9 L481.0 1407.0 L483.0 1423.4 L485.0 1406.8 L487.0 1421.2 L489.0 1407.0 L491.0 1417.4 L493.0 1402.2 L495.0 1417.2 L497.0 1403.4 L499.0 1419.0 L501.0 1403.0 L503.0 1421.5 L505.0 1402.2 L507.0 1421.7 L509.0 1402.9 L511.0 1422.4 L513.0 1402.1 L515.0 1419.5 L517.0 1407.2 L519.0 1421.3 L521.0 1406.5 L523.0 1422.3 L525.0 1405.4 L527.0 1418.5 L529.0 1405.2 L531.0 1417.3 L533.0 1406.4 L535.0 1424.7 L537.0 1406.7 L539.0 1417.4 L541.0 1403.9 L543.0 1419.5 L545.0 1402.6 L546.0 1400.0 L548.5 1392.5 L551.0 1385.8 L553.5 1383.4 L556.0 1387.0 L558.5 1385.1 L561.0 1383.1 L563.5 1381.6 L566.0 1377.1 L568.5 1373.2 L571.0 1373.5 L573.5 1369.3 L576.0 1365.3 L578.5 1367.3 L581.0 1364.1 L583.5 1363.1 L586.0 1358.2 L588.5 1356.9 L591.0 1354.2 L593.5 1352.1 L596.0 1351.2 L598.5 1346.0 L601.0 1345.3 L603.5 1342.1 L606.0 1339.8 L608.5 1326.3 L611.0 1324.9 L613.5 1318.0 L616.0 1314.7 L618.5 1308.3 L621.0 1306.9 L623.5 1306.0 L626.0 1300.5 L628.5 1297.1 L631.0 1292.6 L633.5 1291.9 L636.0 1285.3 L638.5 1275.0 L641.0 1272.4 L643.5 1264.0 L646.0 1255.5 L648.5 1255.3 L651.0 1253.2 L653.5 1244.6 L656.0 1237.4 L658.5 1233.2 L661.0 1232.8 L663.5 1226.1 L666.0 1221.1 L668.5 1215.8 L671.0 1210.9 L673.5 1207.4 L676.0 1201.8 L678.5 1193.2 L681.0 1182.4 L683.5 1177.5 L686.0 1166.8 L688.5 1162.3 L691.0 1149.1 L693.5 1143.3 L696.0 1135.4 L698.5 1124.4 L701.0 1122.6 L703.5 1113.9 L706.0 1101.6 L708.5 1096.0 L711.0 1087.0 L713.5 1072.2 L716.0 1068.4 L718.5 1058.1 L721.0 1048.6 L723.5 1036.4 L726.0 1028.4 L728.5 1018.8 L731.0 1012.0 L733.5 1000.4 L736.0 990.0 L738.5 983.5 L741.0 969.4 L743.5 960.0 L746.0 946.8 L748.5 943.8 L751.0 932.3 L753.5 922.1 L756.0 911.4 L758.5 900.0 L761.0 890.1 L763.5 878.9 L766.0 868.9 L768.5 859.2 L771.0 852.1 L773.5 839.8 L776.0 827.5 L778.5 815.3 L781.0 804.1 L783.5 797.8 L786.0 784.4 L788.5 772.4 L791.0 760.5 L793.5 747.8 L796.0 738.9 L798.5 729.8 L801.0 716.0 L803.5 705.0 L806.0 693.7 L808.5 683.1 L811.0 668.2 L813.5 659.8 L816.0 647.3 L818.5 639.9 L821.0 625.3 L823.5 617.0 L826.0 607.9 L828.5 595.8 L831.0 587.9 L833.5 582.3 L836.0 574.6 L838.5 565.2 L841.0 561.0 L843.5 551.8 L846.0 534.6 L848.5 522.3 L851.0 508.6 L853.5 502.8 L856.0 490.9 L858.5 482.6 L861.0 479.2 L863.5 467.2 L866.0 463.9 L868.5 457.4 L871.0 447.3 L873.5 441.0 L876.0 437.1 L878.5 425.8 L881.0 418.1 L883.5 411.6 L886.0 410.0 L888.5 408.5 L891.0 402.9 L893.5 393.5 L896.0 388.0 L898.5 383.0 L901.0 379.0 L903.5 372.4 L906.0 368.2 L908.5 363.4 L911.0 357.1 L913.5 352.6 L916.0 348.1 L918.5 342.5 L921.0 338.0 L923.5 333.9 L926.0 328.2 L928.5 326.8 L931.0 325.8 L933.5 327.3 L936.0 326.0 L938.5 326.5 L941.0 325.5 L943.5 320.8 L945.2 317.2 L946.0 314.8 L948.5 311.3 L951.0 309.1 L953.5 311.7 L954.5 313.4 L956.0 316.7 L957.3 320.0 L958.5 315.7 L959.5 313.0 L961.0 311.1 L962.0 309.3 L963.5 309.8 L965.0 308.8 L966.0 310.8 L967.5 311.7 L968.5 318.9 L969.5 325.2 L971.0 315.7 L971.5 311.9 L973.5 325.8 L975.5 310.8 L976.0 314.2 L977.5 326.1 L978.5 320.0 L979.5 311.9 L981.0 322.1 L982.5 336.6 L983.5 343.7 L984.6 354.0 L986.0 365.3 L986.5 369.2 L988.5 368.0 L991.0 367.8 L993.5 367.8 L996.0 369.7 L998.5 372.6 L1001.0 376.0 L1003.5 378.2 L1006.0 380.2 L1008.5 382.7 L1011.0 384.8 L1013.5 386.9 L1016.0 388.8 L1018.5 390.8 L1021.0 393.3 L1023.5 396.6 L1026.0 399.4 L1028.5 403.4 L1031.0 407.2 L1033.5 411.5 L1036.0 415.1 L1038.5 419.5 L1041.0 424.0 L1043.5 427.5 L1046.0 433.2 L1048.5 438.0 L1051.0 442.6 L1053.5 447.8 L1056.0 452.8 L1058.5 458.0 L1061.0 462.8 L1063.5 467.8 L1066.0 472.9 L1068.5 477.7 L1071.0 482.6 L1073.5 488.0 L1076.0 493.2 L1078.5 497.4 L1081.0 502.9 L1083.5 507.6 L1086.0 512.8 L1088.5 519.5 L1091.0 525.3 L1093.5 532.2 L1096.0 539.9 L1098.5 549.1 L1101.0 557.8 L1103.5 564.7 L1106.0 571.5 L1108.5 577.7 L1111.0 584.4 L1113.5 590.6 L1116.0 596.8 L1118.5 603.4 L1121.0 609.3 L1123.5 615.5 L1126.0 620.8 L1128.5 626.9 L1131.0 632.3 L1133.5 638.9 L1136.0 645.1 L1138.5 651.6 L1141.0 658.9 L1143.5 665.9 L1146.0 671.8 L1148.5 677.8 L1151.0 683.7 L1153.5 689.5 L1156.0 695.8 L1158.5 701.3 L1161.0 707.1 L1163.5 713.4 L1166.0 718.8 L1168.5 725.3 L1171.0 730.9 L1173.5 737.0 L1176.0 742.9 L1178.5 750.1 L1181.0 755.6 L1183.5 761.8 L1186.0 767.2 L1188.5 772.6 L1191.0 778.0 L1193.5 783.9 L1196.0 788.4 L1198.5 793.7 L1201.0 799.4 L1203.5 805.3 L1206.0 812.0 L1208.5 818.0 L1211.0 823.5 L1213.5 829.5 L1216.0 835.5 L1218.5 841.7 L1221.0 846.0 L1223.5 852.7 L1226.0 857.8 L1228.5 864.1 L1231.0 869.1 L1233.5 875.0 L1236.0 880.2 L1238.5 885.9 L1241.0 892.1 L1243.5 897.5 L1246.0 902.6 L1248.5 908.0 L1251.0 913.2 L1253.5 919.2 L1256.0 924.8 L1258.5 930.3 L1261.0 935.3 L1263.5 939.9 L1266.0 945.2 L1268.5 950.2 L1271.0 955.6 L1273.5 960.8 L1276.0 965.2 L1278.5 970.0 L1281.0 975.2 L1283.5 980.2 L1286.0 985.3 L1288.5 990.6 L1291.0 995.4 L1293.5 1001.0 L1296.0 1005.9 L1298.5 1011.1 L1301.0 1016.0 L1303.5 1020.6 L1306.0 1025.3 L1308.5 1030.3 L1311.0 1035.0 L1313.5 1040.1 L1316.0 1044.2 L1318.5 1048.1 L1321.0 1052.7 L1323.5 1056.5 L1326.0 1061.0 L1328.5 1065.3 L1331.0 1069.0 L1333.5 1073.9 L1336.0 1078.2 L1338.5 1082.3 L1341.0 1086.5 L1343.5 1090.7 L1346.0 1094.8 L1348.5 1099.2 L1351.0 1103.4 L1353.5 1107.8 L1356.0 1111.7 L1358.5 1116.3 L1361.0 1120.6 L1363.5 1124.7 L1366.0 1128.9 L1368.5 1133.4 L1371.0 1137.0 L1373.5 1141.8 L1376.0 1146.0 L1378.5 1150.3 L1381.0 1154.5 L1383.5 1158.4 L1386.0 1162.8 L1388.5 1167.3 L1391.0 1171.5 L1393.5 1175.7 L1396.0 1179.4 L1398.5 1184.2 L1401.0 1188.7 L1403.5 1192.8 L1406.0 1196.8 L1408.5 1200.4 L1411.0 1204.9 L1413.5 1208.2 L1416.0 1211.2 L1418.5 1215.8 L1421.0 1218.9 L1423.5 1222.7 L1426.0 1226.5 L1428.5 1230.8 L1431.0 1234.0 L1433.5 1237.9 L1436.0 1241.8 L1438.5 1245.1 L1441.0 1247.9 L1443.5 1251.2 L1446.0 1254.2 L1448.5 1257.7 L1451.0 1261.4 L1453.5 1264.7 L1456.0 1268.0 L1458.5 1271.6 L1461.0 1274.4 L1463.5 1277.9 L1466.0 1281.2 L1468.5 1284.2 L1471.0 1287.3 L1473.5 1290.1 L1476.0 1292.9 L1478.5 1296.1 L1481.0 1298.7 L1483.5 1301.6 L1486.0 1305.2 L1488.5 1308.1 L1491.0 1311.2 L1493.5 1313.5 L1496.0 1316.3 L1498.5 1318.7 L1501.0 1321.4 L1503.5 1323.9 L1506.0 1327.3 L1508.5 1330.6 L1511.0 1333.4 L1513.5 1336.0 L1516.0 1339.1 L1518.5 1342.2 L1521.0 1344.1 L1523.5 1347.8 L1526.0 1350.9 L1528.5 1353.8 L1531.0 1357.0 L1533.5 1359.8 L1536.0 1362.4 L1538.5 1365.3 L1541.0 1368.3 L1543.5 1370.8 L1546.0 1373.8 L1548.5 1376.9 L1551.0 1380.1 L1553.5 1382.4 L1556.0 1385.3 L1558.5 1388.2 L1561.0 1391.4 L1563.5 1393.9 L1566.0 1397.2 L1568.5 1399.4 L1571.0 1402.4 L1573.5 1404.0 L1575.0 1405.4 L1579.0 1405.3 L1583.0 1405.2 L1587.0 1405.0 L1591.0 1404.8 L1595.0 1404.6 L1599.0 1404.4 L1603.0 1404.1 L1607.0 1403.8 L1611.0 1403.5 L1615.0 1403.2 L1619.0 1402.9 L1623.0 1402.6 L1627.0 1402.2 L1631.0 1401.9 L1635.0 1401.6 L1639.0 1401.3 L1643.0 1401.0 L1647.0 1400.7 L1651.0 1400.4 L1655.0 1400.2 L1659.0 1399.9 L1663.0 1399.7 L1667.0 1399.6 L1671.0 1399.4 L1675.0 1399.4 L1679.0 1399.3 L1683.0 1399.3 L1687.0 1399.3 L1691.0 1399.4 L1695.0 1399.6 L1699.0 1399.7 L1703.0 1399.9 L1707.0 1400.2 L1711.0 1400.4 L1715.0 1400.7 L1719.0 1401.0 L1723.0 1401.2 L1727.0 1401.5 L1731.0 1401.7 L1735.0 1402.0 L1739.0 1402.2 L1743.0 1402.3 L1747.0 1402.4 L1751.0 1402.5 L1755.0 1402.5 L1759.0 1402.5 L1763.0 1402.5 L1767.0 1402.4 L1771.0 1402.4 L1775.0 1402.3 L1779.0 1402.2 L1783.0 1402.1 L1787.0 1402.0 L1791.0 1401.9 L1795.0 1401.8 L1799.0 1401.8 L1803.0 1401.7 L1807.0 1401.7 L1811.0 1401.7 L1815.0 1401.7 L1819.0 1401.7 L1823.0 1401.7 L1827.0 1401.8 L1831.0 1401.9 L1835.0 1402.0 L1839.0 1402.2 L1843.0 1402.3 L1847.0 1402.5 L1851.0 1402.6 L1855.0 1402.8 L1859.0 1402.9 L1863.0 1403.1 L1867.0 1403.2 L1871.0 1403.3 L1875.0 1403.3 L1879.0 1403.4 L1883.0 1403.4 L1887.0 1403.5 L1891.0 1403.5 L1895.0 1403.4 L1899.0 1403.4 L1903.0 1403.3 L1907.0 1403.2 L1911.0 1403.1 L1915.0 1403.0 L1919.0 1402.8 L1923.0 1402.7 L1927.0 1402.5 L1931.0 1402.3 L1935.0 1402.1 L1939.0 1402.0 L1943.0 1401.8 L1947.0 1401.7 L1951.0 1401.6 L1955.0 1401.5 L1959.0 1401.4 L1963.0 1401.4 L1967.0 1401.4 L1971.0 1401.5 L1975.0 1401.6 L1979.0 1401.8 L1983.0 1402.0 L1987.0 1402.3 L1991.0 1402.6 L1995.0 1403.0 L1999.0 1403.4 L2003.0 1403.8 L2007.0 1404.3 L2011.0 1404.9 L2015.0 1405.5 L2019.0 1406.1 L2023.0 1406.8" stroke="#8000ff" stroke-width="9"/>
</g>
<g stroke="#000" fill="none">
<path d="M951 305 H1133" stroke-width="7"/>
<path d="M914.8 538 V616.5" stroke-width="7.5"/>
<path d="M937.3 764 V870.5" stroke-width="7.5"/>
</g>
<g stroke-linecap="round" stroke-width="10" fill="none">
<path d="M132 116 H298" stroke="#000000"/>
<path d="M132 220.3 H298" stroke="#f00000"/>
<path d="M132 324.6 H298" stroke="#0000ff"/>
<path d="M132 428.8 H298" stroke="#ff00ff"/>
<path d="M517.5 116 H685" stroke="#008000"/>
<path d="M517.5 220.3 H685" stroke="#000080"/>
<path d="M517.5 324.6 H685" stroke="#8000ff"/>
</g>
<g fill="#000">
<text transform="translate(314.66 140.30) scale(0.9681 1)" font-family="'Liberation Serif', 'DejaVu Serif', serif" font-size="77">40 <tspan font-size="49" dy="-34">o</tspan><tspan dy="34">C</tspan></text>
<text transform="translate(314.66 244.60) scale(0.9681 1)" font-family="'Liberation Serif', 'DejaVu Serif', serif" font-size="77">50 <tspan font-size="49" dy="-34">o</tspan><tspan dy="34">C</tspan></text>
<text transform="translate(314.66 348.90) scale(0.9681 1)" font-family="'Liberation Serif', 'DejaVu Serif', serif" font-size="77">60 <tspan font-size="49" dy="-34">o</tspan><tspan dy="34">C</tspan></text>
<text transform="translate(314.66 453.10) scale(0.9681 1)" font-family="'Liberation Serif', 'DejaVu Serif', serif" font-size="77">70 <tspan font-size="49" dy="-34">o</tspan><tspan dy="34">C</tspan></text>
<text transform="translate(703.12 140.30) scale(0.9606 1)" font-family="'Liberation Serif', 'DejaVu Serif', serif" font-size="77">80 <tspan font-size="49" dy="-34">o</tspan><tspan dy="34">C</tspan></text>
<text transform="translate(703.12 244.60) scale(0.9606 1)" font-family="'Liberation Serif', 'DejaVu Serif', serif" font-size="77">90 <tspan font-size="49" dy="-34">o</tspan><tspan dy="34">C</tspan></text>
<text transform="translate(703.12 348.90) scale(0.9606 1)" font-family="'Liberation Serif', 'DejaVu Serif', serif" font-size="77">100 <tspan font-size="49" dy="-34">o</tspan><tspan dy="34">C</tspan></text>
</g>
<g font-weight="bold" fill="#000">
<text transform="translate(1888.18 160.50) scale(1.0246 1)" font-family="'Liberation Serif', 'DejaVu Serif', serif" font-weight="bold" font-size="116">(c)</text>
<text transform="translate(1121.81 326.30) scale(0.9633 1)" font-family="'Liberation Serif', 'DejaVu Serif', serif" font-weight="bold" font-size="77">533 nm</text>
<text transform="translate(866.14 538.80) scale(0.9549 1)" font-family="'Liberation Serif', 'DejaVu Serif', serif" font-weight="bold" font-size="77">525 nm</text>
<text transform="translate(810.71 757.80) scale(0.9637 1)" font-family="'Liberation Serif', 'DejaVu Serif', serif" font-weight="bold" font-size="77">530 nm</text>
<text transform="translate(116.20 1518.6) scale(0.95 1)" text-anchor="middle" font-family="'Liberation Serif', 'DejaVu Serif', serif" font-weight="bold" font-size="79">400</text>
<text transform="translate(434.95 1518.6) scale(0.95 1)" text-anchor="middle" font-family="'Liberation Serif', 'DejaVu Serif', serif" font-weight="bold" font-size="79">450</text>
<text transform="translate(753.70 1518.6) scale(0.95 1)" text-anchor="middle" font-family="'Liberation Serif', 'DejaVu Serif', serif" font-weight="bold" font-size="79">500</text>
<text transform="translate(1072.45 1518.6) scale(0.95 1)" text-anchor="middle" font-family="'Liberation Serif', 'DejaVu Serif', serif" font-weight="bold" font-size="79">550</text>
<text transform="translate(1391.20 1518.6) scale(0.95 1)" text-anchor="middle" font-family="'Liberation Serif', 'DejaVu Serif', serif" font-weight="bold" font-size="79">600</text>
<text transform="translate(1709.95 1518.6) scale(0.95 1)" text-anchor="middle" font-family="'Liberation Serif', 'DejaVu Serif', serif" font-weight="bold" font-size="79">650</text>
<text transform="translate(2027.20 1518.6) scale(0.95 1)" text-anchor="middle" font-family="'Liberation Serif', 'DejaVu Serif', serif" font-weight="bold" font-size="79">700</text>
<text transform="translate(772.24 1656.00) scale(0.9638 1)" font-family="'Liberation Serif', 'DejaVu Serif', serif" font-weight="bold" font-size="85">Wavelength (nm)</text>
</g>
</svg>
</body>
</html>
